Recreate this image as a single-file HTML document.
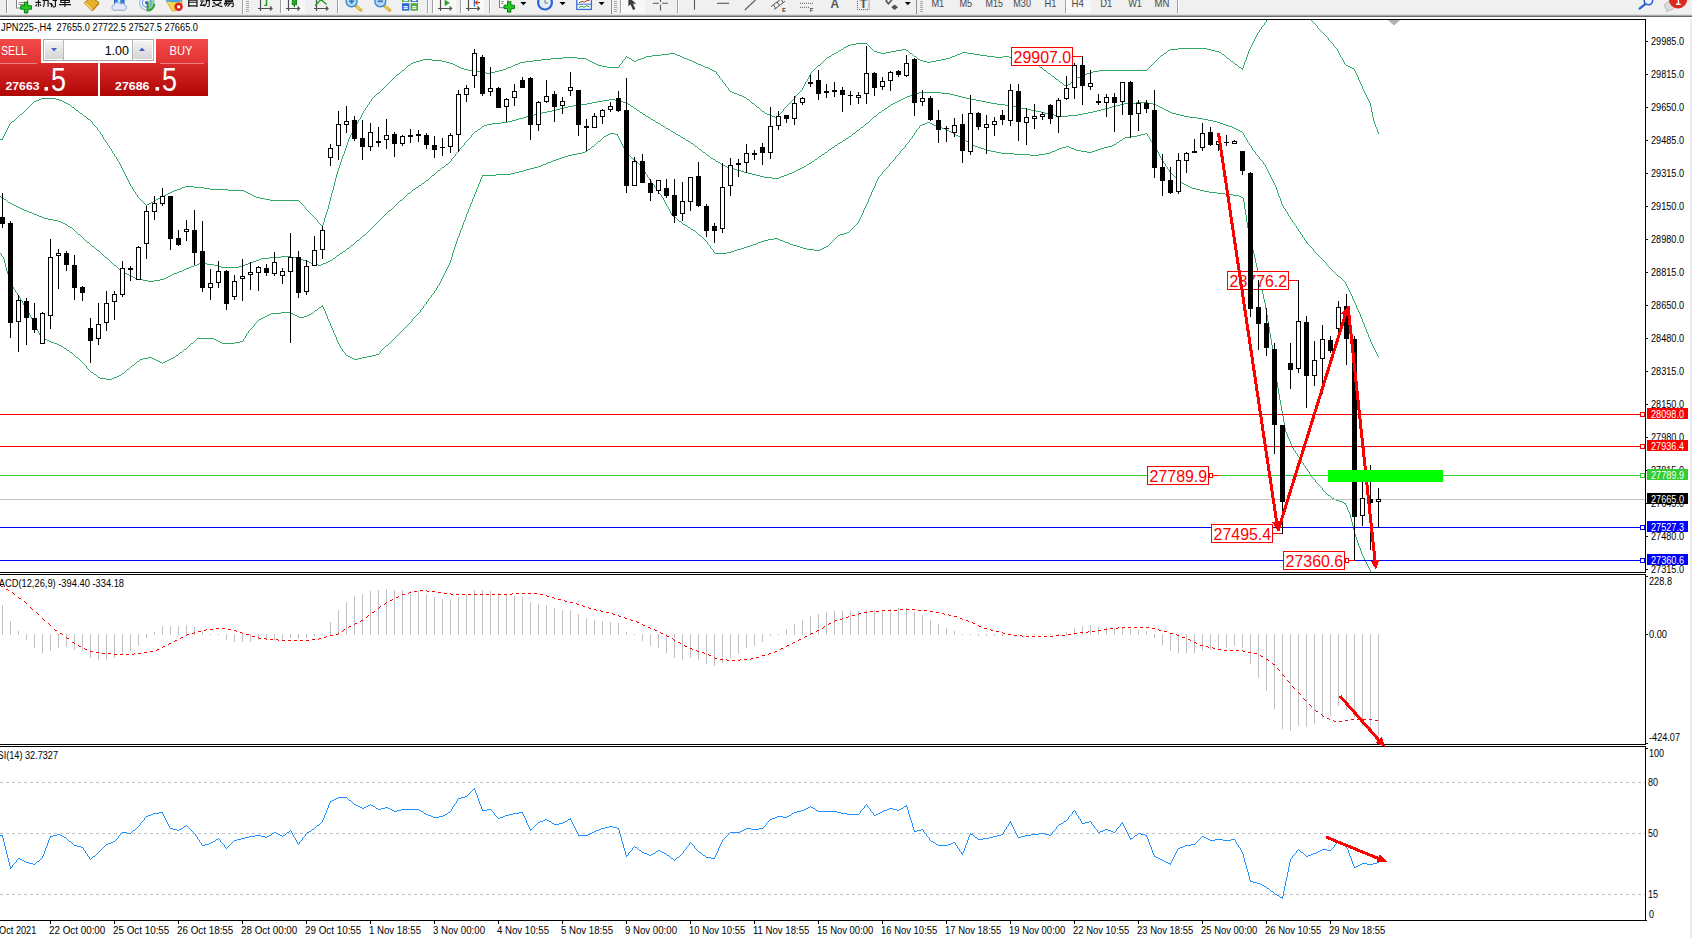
<!DOCTYPE html><html><head><meta charset="utf-8"><title>JPN225 H4</title>
<style>html,body{margin:0;padding:0;background:#fff;overflow:hidden}body{width:1692px;height:938px;position:relative;font-family:"Liberation Sans",sans-serif}svg{position:absolute;left:0;top:0;display:block}text{font-family:"Liberation Sans",sans-serif}</style></head><body>
<svg width="1692" height="938" viewBox="0 0 1692 938">
<defs>
<linearGradient id="gTop" x1="0" y1="0" x2="0" y2="1"><stop offset="0" stop-color="#f24a4a"/><stop offset="1" stop-color="#e03232"/></linearGradient>
<linearGradient id="gBot" x1="0" y1="0" x2="0" y2="1"><stop offset="0" stop-color="#d82a2a"/><stop offset="1" stop-color="#b00606"/></linearGradient>
<linearGradient id="gBtn" x1="0" y1="0" x2="0" y2="1"><stop offset="0" stop-color="#f4f4f4"/><stop offset="1" stop-color="#d4d4d4"/></linearGradient>
<clipPath id="cMain"><rect x="0" y="20" width="1645" height="552"/></clipPath>
<clipPath id="cMacd"><rect x="0" y="575" width="1645" height="169"/></clipPath>
<clipPath id="cTb"><rect x="0" y="0" width="1692" height="14"/></clipPath>
</defs>
<rect x="0" y="0" width="1692" height="938" fill="#fff"/>
<g clip-path="url(#cMain)">
<path d="M1280 5h19v1h-19zM1279 6h1v1h-1zM1299 6h1v1h-1zM1278 7h1v1h-1zM1300 7h1v1h-1zM1277 8h1v1h-1zM1301 8h1v2h-1zM1276 9h1v1h-1zM1275 10h1v1h-1zM1302 10h1v1h-1zM1274 11h1v1h-1zM1303 11h1v1h-1zM1273 12h1v2h-1zM1304 12h1v1h-1zM1305 13h1v1h-1zM1272 14h1v1h-1zM1306 14h1v1h-1zM1271 15h1v1h-1zM1307 15h1v2h-1zM1270 16h1v1h-1zM1269 17h1v1h-1zM1308 17h1v1h-1zM1268 18h1v1h-1zM1309 18h1v1h-1zM1267 19h1v1h-1zM1310 19h1v1h-1zM1266 20h1v2h-1zM1311 20h1v1h-1zM1312 21h1v1h-1zM1265 22h1v1h-1zM1313 22h1v1h-1zM1264 23h1v2h-1zM1314 23h1v1h-1zM1315 24h1v1h-1zM1263 25h1v1h-1zM1316 25h1v1h-1zM1262 26h1v1h-1zM1317 26h1v2h-1zM1261 27h1v2h-1zM1318 28h1v1h-1zM1260 29h1v1h-1zM1319 29h1v1h-1zM1259 30h1v2h-1zM1320 30h1v1h-1zM1321 31h1v1h-1zM1258 32h1v1h-1zM1322 32h1v1h-1zM1257 33h1v2h-1zM1323 33h1v1h-1zM1324 34h1v1h-1zM1256 35h1v2h-1zM1325 35h1v1h-1zM1326 36h1v1h-1zM1255 37h1v2h-1zM1327 37h1v1h-1zM1328 38h1v2h-1zM1254 39h1v2h-1zM1329 40h1v1h-1zM1253 41h1v2h-1zM1330 41h1v1h-1zM1331 42h1v1h-1zM856 43h11v1h-11zM1252 43h1v2h-1zM1332 43h1v1h-1zM851 44h5v1h-5zM867 44h1v1h-1zM1333 44h1v2h-1zM848 45h3v1h-3zM868 45h1v1h-1zM1251 45h1v2h-1zM846 46h2v1h-2zM869 46h1v1h-1zM1334 46h1v1h-1zM844 47h2v1h-2zM870 47h1v1h-1zM1250 47h1v2h-1zM1335 47h1v1h-1zM843 48h1v1h-1zM871 48h1v1h-1zM1178 48h29v1h-29zM1336 48h1v1h-1zM841 49h2v1h-2zM872 49h1v1h-1zM902 49h4v1h-4zM1170 49h8v1h-8zM1207 49h4v1h-4zM1249 49h1v2h-1zM1337 49h1v2h-1zM839 50h2v1h-2zM873 50h1v1h-1zM896 50h6v1h-6zM906 50h2v1h-2zM1168 50h2v1h-2zM1211 50h4v1h-4zM838 51h1v1h-1zM874 51h3v1h-3zM891 51h5v1h-5zM908 51h1v1h-1zM1167 51h1v1h-1zM1215 51h4v1h-4zM1248 51h1v3h-1zM1338 51h1v2h-1zM836 52h2v1h-2zM877 52h4v1h-4zM886 52h5v1h-5zM909 52h1v1h-1zM962 52h5v1h-5zM1166 52h1v1h-1zM1219 52h2v1h-2zM669 53h6v1h-6zM834 53h2v1h-2zM881 53h5v1h-5zM910 53h2v1h-2zM960 53h2v1h-2zM967 53h7v1h-7zM1164 53h2v1h-2zM1221 53h1v1h-1zM1339 53h1v2h-1zM661 54h8v1h-8zM675 54h2v1h-2zM832 54h2v1h-2zM912 54h1v1h-1zM957 54h3v1h-3zM974 54h6v1h-6zM1163 54h1v1h-1zM1222 54h2v1h-2zM1247 54h1v3h-1zM652 55h9v1h-9zM677 55h3v1h-3zM831 55h1v1h-1zM913 55h1v1h-1zM955 55h2v1h-2zM980 55h7v1h-7zM1161 55h2v1h-2zM1224 55h1v1h-1zM1340 55h1v2h-1zM626 56h1v1h-1zM646 56h6v1h-6zM680 56h2v1h-2zM829 56h2v1h-2zM914 56h2v1h-2zM952 56h3v1h-3zM987 56h8v1h-8zM1003 56h6v1h-6zM1160 56h1v1h-1zM1225 56h1v1h-1zM563 57h14v1h-14zM625 57h1v2h-1zM627 57h2v1h-2zM644 57h2v1h-2zM682 57h2v1h-2zM827 57h2v1h-2zM916 57h1v1h-1zM950 57h2v1h-2zM995 57h8v1h-8zM1009 57h3v1h-3zM1159 57h1v1h-1zM1226 57h1v1h-1zM1246 57h1v3h-1zM1341 57h1v1h-1zM551 58h12v1h-12zM577 58h9v1h-9zM629 58h2v1h-2zM641 58h3v1h-3zM684 58h3v1h-3zM826 58h1v1h-1zM917 58h1v1h-1zM946 58h4v1h-4zM1012 58h4v1h-4zM1158 58h1v1h-1zM1227 58h2v1h-2zM1342 58h1v2h-1zM423 59h9v1h-9zM541 59h10v1h-10zM586 59h2v1h-2zM624 59h1v1h-1zM631 59h1v1h-1zM638 59h3v1h-3zM687 59h2v1h-2zM825 59h1v1h-1zM918 59h2v1h-2zM941 59h5v1h-5zM1016 59h3v1h-3zM1157 59h1v1h-1zM1229 59h1v1h-1zM420 60h3v1h-3zM432 60h10v1h-10zM533 60h8v1h-8zM588 60h2v1h-2zM623 60h1v1h-1zM632 60h2v1h-2zM636 60h2v1h-2zM689 60h3v1h-3zM824 60h1v1h-1zM920 60h3v1h-3zM936 60h5v1h-5zM1019 60h4v1h-4zM1156 60h1v1h-1zM1230 60h1v1h-1zM1245 60h1v2h-1zM1343 60h1v2h-1zM416 61h4v1h-4zM442 61h4v1h-4zM525 61h8v1h-8zM590 61h2v1h-2zM622 61h1v2h-1zM634 61h2v1h-2zM692 61h2v1h-2zM823 61h1v1h-1zM923 61h4v1h-4zM931 61h5v1h-5zM1023 61h3v1h-3zM1155 61h1v1h-1zM1231 61h2v1h-2zM413 62h3v1h-3zM446 62h4v1h-4zM520 62h5v1h-5zM592 62h2v1h-2zM694 62h2v1h-2zM822 62h1v1h-1zM927 62h4v1h-4zM1026 62h4v1h-4zM1154 62h1v1h-1zM1233 62h1v1h-1zM1244 62h1v3h-1zM1344 62h1v2h-1zM411 63h2v1h-2zM450 63h3v1h-3zM518 63h2v1h-2zM594 63h2v1h-2zM621 63h1v1h-1zM696 63h2v1h-2zM821 63h1v1h-1zM1030 63h3v1h-3zM1153 63h1v1h-1zM1234 63h1v1h-1zM410 64h1v1h-1zM453 64h2v1h-2zM515 64h3v1h-3zM596 64h2v1h-2zM620 64h1v1h-1zM698 64h3v1h-3zM820 64h1v1h-1zM1033 64h4v1h-4zM1152 64h1v1h-1zM1235 64h2v1h-2zM1345 64h1v1h-1zM408 65h2v1h-2zM455 65h2v1h-2zM513 65h2v1h-2zM598 65h4v1h-4zM619 65h1v2h-1zM701 65h2v1h-2zM818 65h2v1h-2zM1037 65h2v1h-2zM1151 65h1v1h-1zM1237 65h1v1h-1zM1243 65h1v3h-1zM1346 65h2v1h-2zM407 66h1v1h-1zM457 66h2v1h-2zM511 66h2v1h-2zM602 66h5v1h-5zM703 66h2v1h-2zM817 66h1v1h-1zM1039 66h1v1h-1zM1150 66h1v1h-1zM1238 66h1v1h-1zM1348 66h2v1h-2zM406 67h1v1h-1zM459 67h2v1h-2zM508 67h3v1h-3zM607 67h12v1h-12zM705 67h3v1h-3zM816 67h1v1h-1zM1040 67h2v1h-2zM1149 67h1v1h-1zM1239 67h2v1h-2zM1350 67h2v1h-2zM405 68h1v1h-1zM461 68h3v1h-3zM506 68h2v1h-2zM708 68h2v1h-2zM815 68h1v1h-1zM1042 68h1v1h-1zM1148 68h1v1h-1zM1241 68h2v1h-2zM1352 68h2v1h-2zM404 69h1v1h-1zM464 69h4v1h-4zM503 69h3v1h-3zM710 69h2v1h-2zM814 69h1v1h-1zM1043 69h1v1h-1zM1147 69h1v1h-1zM1242 69h1v1h-1zM1354 69h1v2h-1zM402 70h2v1h-2zM468 70h5v1h-5zM499 70h4v1h-4zM712 70h2v1h-2zM813 70h1v1h-1zM1044 70h2v1h-2zM1099 70h48v1h-48zM401 71h1v1h-1zM473 71h7v1h-7zM495 71h4v1h-4zM714 71h2v1h-2zM812 71h1v1h-1zM1046 71h1v1h-1zM1093 71h6v1h-6zM1355 71h1v2h-1zM400 72h1v1h-1zM480 72h6v1h-6zM491 72h4v1h-4zM716 72h1v2h-1zM811 72h1v1h-1zM1047 72h1v1h-1zM1090 72h3v1h-3zM399 73h1v1h-1zM486 73h5v1h-5zM810 73h1v2h-1zM1048 73h2v1h-2zM1087 73h3v1h-3zM1356 73h1v2h-1zM397 74h2v1h-2zM717 74h1v1h-1zM1050 74h1v1h-1zM1085 74h2v1h-2zM396 75h1v1h-1zM718 75h1v1h-1zM809 75h1v2h-1zM1051 75h1v1h-1zM1083 75h2v1h-2zM1357 75h1v2h-1zM395 76h1v1h-1zM719 76h1v2h-1zM1052 76h2v1h-2zM1081 76h2v1h-2zM394 77h1v1h-1zM808 77h1v2h-1zM1054 77h1v1h-1zM1077 77h4v1h-4zM1358 77h1v3h-1zM393 78h1v1h-1zM720 78h1v1h-1zM1055 78h1v1h-1zM1076 78h1v1h-1zM392 79h1v1h-1zM721 79h1v1h-1zM807 79h1v2h-1zM1056 79h2v1h-2zM1074 79h2v1h-2zM391 80h1v1h-1zM722 80h1v2h-1zM1058 80h1v1h-1zM1073 80h1v1h-1zM1359 80h1v2h-1zM390 81h1v1h-1zM806 81h1v1h-1zM1059 81h1v1h-1zM1072 81h1v1h-1zM389 82h1v1h-1zM723 82h1v1h-1zM805 82h1v2h-1zM1060 82h2v1h-2zM1071 82h1v1h-1zM1360 82h1v2h-1zM388 83h1v1h-1zM724 83h1v1h-1zM1062 83h1v1h-1zM1070 83h1v1h-1zM387 84h1v1h-1zM725 84h1v2h-1zM804 84h1v2h-1zM1063 84h1v1h-1zM1068 84h2v1h-2zM1361 84h1v2h-1zM386 85h1v1h-1zM1064 85h2v1h-2zM1067 85h1v1h-1zM385 86h1v1h-1zM726 86h1v1h-1zM803 86h1v2h-1zM1066 86h1v1h-1zM1362 86h1v3h-1zM384 87h1v1h-1zM727 87h1v1h-1zM383 88h1v1h-1zM728 88h1v2h-1zM802 88h1v2h-1zM382 89h1v1h-1zM1363 89h1v2h-1zM381 90h1v1h-1zM729 90h1v1h-1zM801 90h1v1h-1zM380 91h1v1h-1zM730 91h2v1h-2zM800 91h1v1h-1zM1364 91h1v2h-1zM379 92h1v1h-1zM732 92h2v1h-2zM799 92h1v1h-1zM377 93h2v1h-2zM734 93h3v1h-3zM798 93h1v1h-1zM1365 93h1v2h-1zM376 94h1v1h-1zM737 94h2v1h-2zM797 94h1v1h-1zM375 95h1v1h-1zM739 95h3v1h-3zM796 95h1v1h-1zM1366 95h1v2h-1zM374 96h1v1h-1zM742 96h2v1h-2zM795 96h1v2h-1zM373 97h1v1h-1zM744 97h2v1h-2zM1367 97h1v2h-1zM41 98h15v1h-15zM372 98h1v1h-1zM746 98h1v1h-1zM794 98h1v1h-1zM39 99h2v1h-2zM56 99h3v1h-3zM371 99h1v2h-1zM747 99h2v1h-2zM793 99h1v1h-1zM1368 99h1v2h-1zM36 100h3v1h-3zM59 100h3v1h-3zM749 100h1v1h-1zM792 100h1v1h-1zM34 101h2v1h-2zM62 101h2v1h-2zM370 101h1v1h-1zM750 101h1v1h-1zM791 101h1v1h-1zM1369 101h1v2h-1zM33 102h1v1h-1zM64 102h2v1h-2zM369 102h1v2h-1zM751 102h1v1h-1zM790 102h1v1h-1zM32 103h1v1h-1zM66 103h2v1h-2zM752 103h2v1h-2zM789 103h1v1h-1zM1370 103h1v4h-1zM31 104h1v1h-1zM68 104h2v1h-2zM368 104h1v1h-1zM754 104h1v1h-1zM788 104h1v1h-1zM30 105h1v1h-1zM70 105h1v1h-1zM367 105h1v2h-1zM755 105h1v1h-1zM787 105h1v1h-1zM29 106h1v1h-1zM71 106h1v1h-1zM756 106h1v1h-1zM786 106h1v1h-1zM28 107h1v1h-1zM72 107h2v1h-2zM366 107h1v1h-1zM757 107h2v1h-2zM785 107h1v1h-1zM1371 107h1v5h-1zM27 108h1v1h-1zM74 108h1v1h-1zM365 108h1v2h-1zM759 108h1v1h-1zM784 108h1v1h-1zM26 109h1v1h-1zM75 109h1v1h-1zM760 109h1v1h-1zM783 109h1v2h-1zM25 110h1v1h-1zM76 110h2v1h-2zM364 110h1v1h-1zM761 110h1v1h-1zM24 111h1v1h-1zM78 111h1v1h-1zM363 111h1v2h-1zM762 111h2v1h-2zM782 111h1v1h-1zM23 112h1v1h-1zM79 112h1v1h-1zM764 112h1v1h-1zM781 112h1v1h-1zM1372 112h1v5h-1zM22 113h1v1h-1zM80 113h2v1h-2zM362 113h1v2h-1zM765 113h2v1h-2zM780 113h1v1h-1zM20 114h2v1h-2zM82 114h1v1h-1zM767 114h3v1h-3zM779 114h1v1h-1zM19 115h1v1h-1zM83 115h1v1h-1zM361 115h1v2h-1zM770 115h2v1h-2zM778 115h1v1h-1zM18 116h1v1h-1zM84 116h2v1h-2zM772 116h3v1h-3zM777 116h1v1h-1zM17 117h1v1h-1zM86 117h1v1h-1zM360 117h1v2h-1zM775 117h2v1h-2zM1373 117h1v4h-1zM16 118h1v1h-1zM87 118h1v1h-1zM15 119h1v1h-1zM88 119h2v1h-2zM359 119h1v1h-1zM14 120h1v1h-1zM90 120h1v1h-1zM358 120h1v2h-1zM12 121h2v1h-2zM91 121h1v1h-1zM1374 121h1v3h-1zM11 122h1v1h-1zM92 122h1v2h-1zM357 122h1v2h-1zM10 123h1v1h-1zM9 124h1v2h-1zM93 124h1v1h-1zM356 124h1v2h-1zM1375 124h1v3h-1zM94 125h1v1h-1zM8 126h1v2h-1zM95 126h1v1h-1zM355 126h1v2h-1zM96 127h1v1h-1zM1376 127h1v2h-1zM7 128h1v2h-1zM97 128h1v2h-1zM354 128h1v1h-1zM353 129h1v2h-1zM1377 129h1v3h-1zM6 130h1v2h-1zM98 130h1v1h-1zM99 131h1v1h-1zM352 131h1v2h-1zM5 132h1v2h-1zM100 132h1v2h-1zM1378 132h1v2h-1zM351 133h1v2h-1zM4 134h1v2h-1zM101 134h1v1h-1zM102 135h1v2h-1zM350 135h1v2h-1zM3 136h1v2h-1zM103 137h1v2h-1zM349 137h1v2h-1zM2 138h1v2h-1zM0 139h2v1h-2zM104 139h1v1h-1zM348 139h1v3h-1zM105 140h1v2h-1zM106 142h1v1h-1zM347 142h1v3h-1zM107 143h1v2h-1zM108 145h1v1h-1zM346 145h1v3h-1zM109 146h1v2h-1zM110 148h1v1h-1zM345 148h1v3h-1zM111 149h1v2h-1zM112 151h1v2h-1zM344 151h1v3h-1zM113 153h1v1h-1zM114 154h1v2h-1zM343 154h1v2h-1zM115 156h1v1h-1zM342 156h1v3h-1zM116 157h1v2h-1zM117 159h1v2h-1zM341 159h1v3h-1zM118 161h1v1h-1zM119 162h1v2h-1zM340 162h1v3h-1zM120 164h1v2h-1zM339 165h1v3h-1zM121 166h1v2h-1zM122 168h1v2h-1zM338 168h1v3h-1zM123 170h1v2h-1zM337 171h1v3h-1zM124 172h1v2h-1zM125 174h1v2h-1zM336 174h1v4h-1zM126 176h1v2h-1zM127 178h1v2h-1zM335 178h1v4h-1zM128 180h1v2h-1zM129 182h1v2h-1zM334 182h1v4h-1zM130 184h1v2h-1zM131 186h1v1h-1zM185 186h9v1h-9zM333 186h1v4h-1zM132 187h1v2h-1zM182 187h3v1h-3zM194 187h10v1h-10zM180 188h2v1h-2zM204 188h6v1h-6zM133 189h1v2h-1zM177 189h3v1h-3zM210 189h18v1h-18zM174 190h3v1h-3zM228 190h16v1h-16zM332 190h1v3h-1zM134 191h1v1h-1zM172 191h2v1h-2zM244 191h2v1h-2zM135 192h1v2h-1zM170 192h2v1h-2zM246 192h2v1h-2zM168 193h2v1h-2zM248 193h2v1h-2zM331 193h1v4h-1zM136 194h1v1h-1zM166 194h2v1h-2zM250 194h2v1h-2zM137 195h1v2h-1zM164 195h2v1h-2zM252 195h2v1h-2zM162 196h2v1h-2zM254 196h2v1h-2zM138 197h1v1h-1zM160 197h2v1h-2zM256 197h4v1h-4zM330 197h1v4h-1zM139 198h1v1h-1zM158 198h2v1h-2zM260 198h5v1h-5zM140 199h1v1h-1zM156 199h2v1h-2zM265 199h5v1h-5zM141 200h1v1h-1zM155 200h1v1h-1zM270 200h29v1h-29zM142 201h1v1h-1zM153 201h2v1h-2zM299 201h1v1h-1zM329 201h1v4h-1zM143 202h1v1h-1zM151 202h2v1h-2zM300 202h1v1h-1zM144 203h1v1h-1zM149 203h2v1h-2zM301 203h1v1h-1zM145 204h1v1h-1zM147 204h2v1h-2zM302 204h1v1h-1zM146 205h1v1h-1zM303 205h1v1h-1zM328 205h1v4h-1zM304 206h1v1h-1zM305 207h1v2h-1zM306 209h1v1h-1zM327 209h1v3h-1zM307 210h1v1h-1zM308 211h1v1h-1zM309 212h1v1h-1zM326 212h1v3h-1zM310 213h1v1h-1zM311 214h1v1h-1zM312 215h1v1h-1zM325 215h1v3h-1zM313 216h1v1h-1zM314 217h1v1h-1zM315 218h1v1h-1zM324 218h1v4h-1zM316 219h1v1h-1zM317 220h1v2h-1zM318 222h1v1h-1zM323 222h1v3h-1zM319 223h1v1h-1zM320 224h1v1h-1zM321 225h2v1h-2zM322 226h1v1h-1z" fill="#30aa66" shape-rendering="crispEdges"/>
<path d="M919 92h22v1h-22zM916 93h3v1h-3zM941 93h9v1h-9zM913 94h3v1h-3zM950 94h4v1h-4zM910 95h3v1h-3zM954 95h4v1h-4zM907 96h3v1h-3zM958 96h4v1h-4zM905 97h2v1h-2zM962 97h4v1h-4zM903 98h2v1h-2zM966 98h5v1h-5zM609 99h6v1h-6zM901 99h2v1h-2zM971 99h5v1h-5zM603 100h6v1h-6zM615 100h4v1h-4zM899 100h2v1h-2zM976 100h5v1h-5zM597 101h6v1h-6zM619 101h4v1h-4zM897 101h2v1h-2zM981 101h5v1h-5zM592 102h5v1h-5zM623 102h3v1h-3zM895 102h2v1h-2zM986 102h5v1h-5zM1136 102h12v1h-12zM587 103h5v1h-5zM626 103h2v1h-2zM893 103h2v1h-2zM991 103h6v1h-6zM1124 103h12v1h-12zM1148 103h5v1h-5zM581 104h6v1h-6zM628 104h2v1h-2zM891 104h2v1h-2zM997 104h8v1h-8zM1120 104h4v1h-4zM1153 104h3v1h-3zM573 105h8v1h-8zM630 105h1v1h-1zM890 105h1v1h-1zM1005 105h6v1h-6zM1116 105h4v1h-4zM1156 105h2v1h-2zM568 106h5v1h-5zM631 106h2v1h-2zM888 106h2v1h-2zM1011 106h5v1h-5zM1112 106h4v1h-4zM1158 106h2v1h-2zM564 107h4v1h-4zM633 107h1v1h-1zM887 107h1v1h-1zM1016 107h5v1h-5zM1109 107h3v1h-3zM1160 107h2v1h-2zM560 108h4v1h-4zM634 108h2v1h-2zM885 108h2v1h-2zM1021 108h5v1h-5zM1105 108h4v1h-4zM1162 108h2v1h-2zM556 109h4v1h-4zM636 109h1v1h-1zM884 109h1v1h-1zM1026 109h5v1h-5zM1101 109h4v1h-4zM1164 109h2v1h-2zM552 110h4v1h-4zM637 110h2v1h-2zM882 110h2v1h-2zM1031 110h5v1h-5zM1097 110h4v1h-4zM1166 110h2v1h-2zM547 111h5v1h-5zM639 111h1v1h-1zM881 111h1v1h-1zM1036 111h5v1h-5zM1093 111h4v1h-4zM1168 111h2v1h-2zM542 112h5v1h-5zM640 112h2v1h-2zM879 112h2v1h-2zM1041 112h4v1h-4zM1088 112h5v1h-5zM1170 112h2v1h-2zM538 113h4v1h-4zM642 113h1v1h-1zM878 113h1v1h-1zM1045 113h5v1h-5zM1083 113h5v1h-5zM1172 113h4v1h-4zM534 114h4v1h-4zM643 114h2v1h-2zM877 114h1v1h-1zM1050 114h4v1h-4zM1078 114h5v1h-5zM1176 114h4v1h-4zM530 115h4v1h-4zM645 115h1v1h-1zM876 115h1v1h-1zM1054 115h4v1h-4zM1068 115h10v1h-10zM1180 115h4v1h-4zM526 116h4v1h-4zM646 116h2v1h-2zM874 116h2v1h-2zM1058 116h10v1h-10zM1184 116h5v1h-5zM523 117h3v1h-3zM648 117h2v1h-2zM873 117h1v1h-1zM1189 117h8v1h-8zM519 118h4v1h-4zM650 118h1v1h-1zM872 118h1v1h-1zM1197 118h6v1h-6zM516 119h3v1h-3zM651 119h2v1h-2zM871 119h1v1h-1zM1203 119h5v1h-5zM512 120h4v1h-4zM653 120h2v1h-2zM870 120h1v1h-1zM1208 120h5v1h-5zM508 121h4v1h-4zM655 121h1v1h-1zM869 121h1v1h-1zM1213 121h4v1h-4zM501 122h7v1h-7zM656 122h2v1h-2zM868 122h1v1h-1zM1217 122h3v1h-3zM492 123h9v1h-9zM658 123h2v1h-2zM866 123h2v1h-2zM1220 123h3v1h-3zM487 124h5v1h-5zM660 124h1v1h-1zM865 124h1v1h-1zM1223 124h3v1h-3zM484 125h3v1h-3zM661 125h2v1h-2zM864 125h1v1h-1zM1226 125h3v1h-3zM482 126h2v1h-2zM663 126h2v1h-2zM863 126h1v1h-1zM1229 126h3v1h-3zM481 127h1v1h-1zM665 127h1v1h-1zM861 127h2v1h-2zM1232 127h2v1h-2zM480 128h1v1h-1zM666 128h2v1h-2zM860 128h1v1h-1zM1234 128h2v1h-2zM478 129h2v1h-2zM668 129h2v1h-2zM859 129h1v1h-1zM1236 129h2v1h-2zM477 130h1v1h-1zM670 130h1v1h-1zM857 130h2v1h-2zM1238 130h2v1h-2zM475 131h2v1h-2zM671 131h2v1h-2zM856 131h1v1h-1zM1240 131h2v1h-2zM474 132h1v1h-1zM673 132h2v1h-2zM855 132h1v1h-1zM1242 132h1v1h-1zM473 133h1v1h-1zM675 133h1v1h-1zM853 133h2v1h-2zM1243 133h1v2h-1zM472 134h1v1h-1zM676 134h2v1h-2zM852 134h1v1h-1zM471 135h1v2h-1zM678 135h2v1h-2zM851 135h1v1h-1zM1244 135h1v2h-1zM680 136h1v1h-1zM849 136h2v1h-2zM470 137h1v1h-1zM681 137h2v1h-2zM848 137h1v1h-1zM1245 137h1v1h-1zM469 138h1v1h-1zM683 138h2v1h-2zM846 138h2v1h-2zM1246 138h1v2h-1zM468 139h1v1h-1zM685 139h1v1h-1zM845 139h1v1h-1zM467 140h1v1h-1zM686 140h2v1h-2zM843 140h2v1h-2zM1247 140h1v2h-1zM466 141h1v1h-1zM688 141h2v1h-2zM842 141h1v1h-1zM465 142h1v1h-1zM690 142h1v1h-1zM840 142h2v1h-2zM1248 142h1v1h-1zM464 143h1v2h-1zM691 143h2v1h-2zM838 143h2v1h-2zM1249 143h1v2h-1zM693 144h1v1h-1zM837 144h1v1h-1zM463 145h1v1h-1zM694 145h1v1h-1zM835 145h2v1h-2zM1250 145h1v1h-1zM462 146h1v1h-1zM695 146h2v1h-2zM834 146h1v1h-1zM1251 146h1v2h-1zM461 147h1v1h-1zM697 147h1v1h-1zM832 147h2v1h-2zM460 148h1v1h-1zM698 148h1v1h-1zM831 148h1v1h-1zM1252 148h1v2h-1zM459 149h1v2h-1zM699 149h2v1h-2zM829 149h2v1h-2zM701 150h1v1h-1zM828 150h1v1h-1zM1253 150h1v1h-1zM458 151h1v1h-1zM702 151h1v1h-1zM827 151h1v1h-1zM1254 151h1v1h-1zM457 152h1v1h-1zM703 152h2v1h-2zM825 152h2v1h-2zM1255 152h1v2h-1zM456 153h1v1h-1zM705 153h1v1h-1zM824 153h1v1h-1zM455 154h1v2h-1zM706 154h1v1h-1zM822 154h2v1h-2zM1256 154h1v1h-1zM707 155h2v1h-2zM821 155h1v1h-1zM1257 155h1v1h-1zM454 156h1v1h-1zM709 156h1v1h-1zM819 156h2v1h-2zM1258 156h1v1h-1zM453 157h1v1h-1zM710 157h1v1h-1zM818 157h1v1h-1zM1259 157h1v2h-1zM452 158h1v1h-1zM711 158h2v1h-2zM817 158h1v1h-1zM451 159h1v2h-1zM713 159h2v1h-2zM815 159h2v1h-2zM1260 159h1v1h-1zM715 160h1v1h-1zM814 160h1v1h-1zM1261 160h1v1h-1zM450 161h1v1h-1zM716 161h2v1h-2zM812 161h2v1h-2zM1262 161h1v1h-1zM449 162h1v1h-1zM718 162h2v1h-2zM811 162h1v1h-1zM1263 162h1v2h-1zM448 163h1v1h-1zM720 163h1v1h-1zM809 163h2v1h-2zM446 164h2v1h-2zM721 164h2v1h-2zM807 164h2v1h-2zM1264 164h1v1h-1zM445 165h1v1h-1zM723 165h2v1h-2zM806 165h1v1h-1zM1265 165h1v2h-1zM444 166h1v1h-1zM725 166h2v1h-2zM804 166h2v1h-2zM442 167h2v1h-2zM727 167h4v1h-4zM802 167h2v1h-2zM1266 167h1v2h-1zM441 168h1v1h-1zM731 168h3v1h-3zM800 168h2v1h-2zM440 169h1v1h-1zM734 169h3v1h-3zM798 169h2v1h-2zM1267 169h1v2h-1zM438 170h2v1h-2zM737 170h4v1h-4zM796 170h2v1h-2zM437 171h1v1h-1zM741 171h3v1h-3zM794 171h2v1h-2zM1268 171h1v2h-1zM436 172h1v1h-1zM744 172h4v1h-4zM792 172h2v1h-2zM435 173h1v1h-1zM748 173h4v1h-4zM789 173h3v1h-3zM1269 173h1v2h-1zM434 174h1v1h-1zM752 174h4v1h-4zM787 174h2v1h-2zM432 175h2v1h-2zM756 175h4v1h-4zM784 175h3v1h-3zM1270 175h1v2h-1zM431 176h1v1h-1zM760 176h4v1h-4zM781 176h3v1h-3zM430 177h1v1h-1zM764 177h8v1h-8zM779 177h2v1h-2zM1271 177h1v2h-1zM429 178h1v1h-1zM772 178h7v1h-7zM428 179h1v1h-1zM1272 179h1v2h-1zM426 180h2v1h-2zM425 181h1v1h-1zM1273 181h1v2h-1zM424 182h1v1h-1zM422 183h2v1h-2zM1274 183h1v2h-1zM421 184h1v1h-1zM419 185h2v1h-2zM1275 185h1v2h-1zM418 186h1v1h-1zM416 187h2v1h-2zM1276 187h1v3h-1zM415 188h1v1h-1zM413 189h2v1h-2zM412 190h1v1h-1zM1277 190h1v3h-1zM411 191h1v1h-1zM410 192h1v1h-1zM408 193h2v1h-2zM1278 193h1v3h-1zM407 194h1v1h-1zM406 195h1v1h-1zM0 196h1v1h-1zM405 196h1v1h-1zM1279 196h1v2h-1zM1 197h2v1h-2zM404 197h1v1h-1zM3 198h1v1h-1zM403 198h1v1h-1zM1280 198h1v3h-1zM4 199h2v1h-2zM402 199h1v1h-1zM6 200h1v1h-1zM400 200h2v1h-2zM7 201h1v1h-1zM399 201h1v1h-1zM1281 201h1v3h-1zM8 202h2v1h-2zM398 202h1v1h-1zM10 203h2v1h-2zM397 203h1v1h-1zM12 204h2v1h-2zM396 204h1v1h-1zM1282 204h1v2h-1zM14 205h2v1h-2zM395 205h1v1h-1zM16 206h2v1h-2zM394 206h1v1h-1zM1283 206h1v2h-1zM18 207h2v1h-2zM393 207h1v1h-1zM20 208h2v1h-2zM392 208h1v1h-1zM1284 208h1v1h-1zM22 209h2v1h-2zM391 209h1v1h-1zM1285 209h1v2h-1zM24 210h3v1h-3zM389 210h2v1h-2zM27 211h2v1h-2zM388 211h1v1h-1zM1286 211h1v1h-1zM29 212h3v1h-3zM387 212h1v1h-1zM1287 212h1v2h-1zM32 213h2v1h-2zM386 213h1v1h-1zM34 214h3v1h-3zM385 214h1v1h-1zM1288 214h1v2h-1zM37 215h2v1h-2zM384 215h1v1h-1zM39 216h3v1h-3zM383 216h1v1h-1zM1289 216h1v1h-1zM42 217h2v1h-2zM382 217h1v1h-1zM1290 217h1v2h-1zM44 218h4v1h-4zM381 218h1v1h-1zM48 219h5v1h-5zM380 219h1v1h-1zM1291 219h1v1h-1zM53 220h5v1h-5zM379 220h1v1h-1zM1292 220h1v2h-1zM58 221h3v1h-3zM378 221h1v1h-1zM61 222h2v1h-2zM377 222h1v1h-1zM1293 222h1v1h-1zM63 223h2v1h-2zM376 223h1v1h-1zM1294 223h1v2h-1zM65 224h2v1h-2zM375 224h1v1h-1zM67 225h1v1h-1zM374 225h1v1h-1zM1295 225h1v1h-1zM68 226h2v1h-2zM373 226h1v1h-1zM1296 226h1v2h-1zM70 227h2v1h-2zM372 227h1v1h-1zM72 228h1v1h-1zM371 228h1v1h-1zM1297 228h1v1h-1zM73 229h1v1h-1zM370 229h1v1h-1zM1298 229h1v2h-1zM74 230h1v1h-1zM369 230h1v1h-1zM75 231h1v1h-1zM368 231h1v1h-1zM1299 231h1v1h-1zM76 232h1v1h-1zM367 232h1v1h-1zM1300 232h1v2h-1zM77 233h1v1h-1zM366 233h1v1h-1zM78 234h2v1h-2zM365 234h1v1h-1zM1301 234h1v1h-1zM80 235h1v1h-1zM363 235h2v1h-2zM1302 235h1v2h-1zM81 236h1v1h-1zM362 236h1v1h-1zM82 237h1v1h-1zM361 237h1v1h-1zM1303 237h1v1h-1zM83 238h1v1h-1zM360 238h1v1h-1zM1304 238h1v2h-1zM84 239h1v1h-1zM359 239h1v1h-1zM85 240h1v1h-1zM357 240h2v1h-2zM1305 240h1v1h-1zM86 241h1v1h-1zM356 241h1v1h-1zM1306 241h1v2h-1zM87 242h2v1h-2zM355 242h1v1h-1zM89 243h1v1h-1zM354 243h1v1h-1zM1307 243h1v1h-1zM90 244h1v1h-1zM353 244h1v1h-1zM1308 244h1v1h-1zM91 245h1v1h-1zM351 245h2v1h-2zM1309 245h1v1h-1zM92 246h2v1h-2zM350 246h1v1h-1zM1310 246h1v1h-1zM94 247h1v1h-1zM349 247h1v1h-1zM1311 247h1v1h-1zM95 248h1v1h-1zM347 248h2v1h-2zM1312 248h1v1h-1zM96 249h1v1h-1zM346 249h1v1h-1zM1313 249h1v2h-1zM97 250h2v1h-2zM345 250h1v1h-1zM99 251h1v1h-1zM343 251h2v1h-2zM1314 251h1v1h-1zM100 252h1v1h-1zM342 252h1v1h-1zM1315 252h1v1h-1zM101 253h1v1h-1zM340 253h2v1h-2zM1316 253h1v1h-1zM102 254h1v1h-1zM339 254h1v1h-1zM1317 254h1v1h-1zM103 255h1v1h-1zM337 255h2v1h-2zM1318 255h1v1h-1zM104 256h1v1h-1zM281 256h10v1h-10zM336 256h1v1h-1zM1319 256h1v1h-1zM105 257h2v1h-2zM269 257h12v1h-12zM291 257h6v1h-6zM335 257h1v1h-1zM1320 257h1v1h-1zM107 258h1v1h-1zM261 258h8v1h-8zM297 258h4v1h-4zM333 258h2v1h-2zM1321 258h1v1h-1zM108 259h1v1h-1zM259 259h2v1h-2zM301 259h2v1h-2zM332 259h1v1h-1zM1322 259h1v1h-1zM109 260h1v1h-1zM256 260h3v1h-3zM303 260h3v1h-3zM330 260h2v1h-2zM1323 260h1v1h-1zM110 261h1v1h-1zM253 261h3v1h-3zM306 261h3v1h-3zM328 261h2v1h-2zM1324 261h1v1h-1zM111 262h1v1h-1zM251 262h2v1h-2zM309 262h2v1h-2zM326 262h2v1h-2zM1325 262h1v1h-1zM112 263h1v1h-1zM199 263h8v1h-8zM248 263h3v1h-3zM311 263h3v1h-3zM323 263h3v1h-3zM1326 263h1v2h-1zM113 264h1v1h-1zM197 264h2v1h-2zM207 264h7v1h-7zM245 264h3v1h-3zM314 264h4v1h-4zM321 264h2v1h-2zM114 265h2v1h-2zM194 265h3v1h-3zM214 265h4v1h-4zM242 265h3v1h-3zM318 265h3v1h-3zM1327 265h1v1h-1zM116 266h1v1h-1zM191 266h3v1h-3zM218 266h3v1h-3zM239 266h3v1h-3zM1328 266h1v1h-1zM117 267h1v1h-1zM189 267h2v1h-2zM221 267h18v1h-18zM1329 267h1v1h-1zM118 268h1v1h-1zM186 268h3v1h-3zM1330 268h1v1h-1zM119 269h2v1h-2zM184 269h2v1h-2zM1331 269h1v1h-1zM121 270h1v1h-1zM182 270h2v1h-2zM1332 270h1v1h-1zM122 271h1v1h-1zM179 271h3v1h-3zM1333 271h1v1h-1zM123 272h2v1h-2zM177 272h2v1h-2zM1334 272h1v1h-1zM125 273h2v1h-2zM174 273h3v1h-3zM1335 273h1v1h-1zM127 274h2v1h-2zM172 274h2v1h-2zM1336 274h1v1h-1zM129 275h2v1h-2zM170 275h2v1h-2zM1337 275h1v1h-1zM131 276h2v1h-2zM168 276h2v1h-2zM1338 276h2v1h-2zM133 277h2v1h-2zM166 277h2v1h-2zM1340 277h1v1h-1zM135 278h3v1h-3zM164 278h2v1h-2zM1341 278h1v1h-1zM138 279h5v1h-5zM160 279h4v1h-4zM1342 279h1v1h-1zM143 280h5v1h-5zM154 280h6v1h-6zM1343 280h1v1h-1zM148 281h6v1h-6zM1344 281h1v1h-1zM1345 282h1v2h-1zM1346 284h1v2h-1zM1347 286h1v2h-1zM1348 288h1v2h-1zM1349 290h1v2h-1zM1350 292h1v2h-1zM1351 294h1v2h-1zM1352 296h1v3h-1zM1353 299h1v2h-1zM1354 301h1v2h-1zM1355 303h1v2h-1zM1356 305h1v3h-1zM1357 308h1v2h-1zM1358 310h1v2h-1zM1359 312h1v2h-1zM1360 314h1v3h-1zM1361 317h1v2h-1zM1362 319h1v3h-1zM1363 322h1v2h-1zM1364 324h1v3h-1zM1365 327h1v2h-1zM1366 329h1v3h-1zM1367 332h1v2h-1zM1368 334h1v3h-1zM1369 337h1v2h-1zM1370 339h1v3h-1zM1371 342h1v2h-1zM1372 344h1v2h-1zM1373 346h1v2h-1zM1374 348h1v2h-1zM1375 350h1v2h-1zM1376 352h1v2h-1zM1377 354h1v2h-1zM1378 356h1v1h-1z" fill="#30aa66" shape-rendering="crispEdges"/>
<path d="M927 122h3v1h-3zM925 123h2v1h-2zM930 123h2v1h-2zM922 124h3v1h-3zM932 124h2v1h-2zM920 125h2v1h-2zM934 125h3v1h-3zM919 126h1v2h-1zM937 126h2v1h-2zM939 127h3v1h-3zM918 128h1v1h-1zM942 128h3v1h-3zM917 129h1v1h-1zM945 129h2v1h-2zM916 130h1v2h-1zM947 130h2v1h-2zM949 131h2v1h-2zM915 132h1v1h-1zM951 132h2v1h-2zM610 133h5v1h-5zM914 133h1v2h-1zM953 133h2v1h-2zM1145 133h2v1h-2zM608 134h2v1h-2zM615 134h3v1h-3zM955 134h1v1h-1zM1141 134h4v1h-4zM1147 134h1v2h-1zM606 135h2v1h-2zM617 135h1v1h-1zM913 135h1v1h-1zM956 135h2v1h-2zM1137 135h4v1h-4zM604 136h2v1h-2zM618 136h1v2h-1zM912 136h1v2h-1zM958 136h2v1h-2zM1131 136h6v1h-6zM1148 136h1v1h-1zM603 137h1v1h-1zM960 137h1v1h-1zM1125 137h6v1h-6zM1149 137h1v2h-1zM602 138h1v1h-1zM619 138h1v2h-1zM911 138h1v1h-1zM961 138h2v1h-2zM1123 138h2v1h-2zM601 139h1v1h-1zM910 139h1v1h-1zM963 139h2v1h-2zM1122 139h1v1h-1zM1150 139h1v2h-1zM600 140h1v1h-1zM620 140h1v2h-1zM909 140h1v2h-1zM965 140h1v1h-1zM1120 140h2v1h-2zM598 141h2v1h-2zM966 141h2v1h-2zM1119 141h1v1h-1zM1151 141h1v1h-1zM597 142h1v1h-1zM621 142h1v2h-1zM908 142h1v1h-1zM968 142h1v1h-1zM1117 142h2v1h-2zM1152 142h1v2h-1zM596 143h1v1h-1zM907 143h1v1h-1zM969 143h2v1h-2zM1116 143h1v1h-1zM595 144h1v1h-1zM622 144h1v2h-1zM906 144h1v1h-1zM971 144h2v1h-2zM1114 144h2v1h-2zM1153 144h1v1h-1zM594 145h1v1h-1zM905 145h1v2h-1zM973 145h2v1h-2zM1112 145h2v1h-2zM1154 145h1v2h-1zM592 146h2v1h-2zM623 146h1v2h-1zM975 146h3v1h-3zM1066 146h3v1h-3zM1108 146h4v1h-4zM591 147h1v1h-1zM904 147h1v1h-1zM978 147h3v1h-3zM1062 147h4v1h-4zM1069 147h2v1h-2zM1104 147h4v1h-4zM1155 147h1v1h-1zM590 148h1v1h-1zM624 148h1v1h-1zM903 148h1v1h-1zM981 148h3v1h-3zM1059 148h3v1h-3zM1071 148h3v1h-3zM1101 148h3v1h-3zM1156 148h1v2h-1zM588 149h2v1h-2zM625 149h1v2h-1zM902 149h1v1h-1zM984 149h3v1h-3zM1057 149h2v1h-2zM1074 149h2v1h-2zM1098 149h3v1h-3zM587 150h1v1h-1zM901 150h1v1h-1zM987 150h4v1h-4zM1055 150h2v1h-2zM1076 150h5v1h-5zM1095 150h3v1h-3zM1157 150h1v2h-1zM585 151h2v1h-2zM626 151h1v1h-1zM900 151h1v2h-1zM991 151h5v1h-5zM1052 151h3v1h-3zM1081 151h6v1h-6zM1092 151h3v1h-3zM582 152h3v1h-3zM627 152h1v1h-1zM996 152h5v1h-5zM1050 152h2v1h-2zM1087 152h5v1h-5zM1158 152h1v2h-1zM577 153h5v1h-5zM628 153h1v2h-1zM899 153h1v1h-1zM1001 153h13v1h-13zM1045 153h5v1h-5zM572 154h5v1h-5zM898 154h1v1h-1zM1014 154h16v1h-16zM1039 154h6v1h-6zM1159 154h1v2h-1zM568 155h4v1h-4zM629 155h1v1h-1zM897 155h1v1h-1zM1030 155h9v1h-9zM565 156h3v1h-3zM630 156h1v1h-1zM896 156h1v1h-1zM1160 156h1v2h-1zM562 157h3v1h-3zM631 157h1v1h-1zM895 157h1v2h-1zM559 158h3v1h-3zM632 158h1v1h-1zM1161 158h1v2h-1zM556 159h3v1h-3zM633 159h1v1h-1zM894 159h1v1h-1zM553 160h3v1h-3zM634 160h2v1h-2zM893 160h1v1h-1zM1162 160h1v1h-1zM551 161h2v1h-2zM636 161h1v1h-1zM892 161h1v1h-1zM1163 161h1v2h-1zM548 162h3v1h-3zM637 162h1v1h-1zM891 162h1v1h-1zM546 163h2v1h-2zM638 163h1v1h-1zM890 163h1v1h-1zM1164 163h1v1h-1zM543 164h3v1h-3zM639 164h1v1h-1zM889 164h1v2h-1zM1165 164h1v2h-1zM541 165h2v1h-2zM640 165h1v1h-1zM538 166h3v1h-3zM641 166h1v2h-1zM888 166h1v1h-1zM1166 166h1v1h-1zM534 167h4v1h-4zM887 167h1v1h-1zM1167 167h1v2h-1zM530 168h4v1h-4zM642 168h1v1h-1zM886 168h1v1h-1zM526 169h4v1h-4zM643 169h1v2h-1zM885 169h1v1h-1zM1168 169h1v1h-1zM523 170h3v1h-3zM884 170h1v1h-1zM1169 170h1v2h-1zM519 171h4v1h-4zM644 171h1v1h-1zM883 171h1v1h-1zM515 172h4v1h-4zM645 172h1v2h-1zM882 172h1v2h-1zM1170 172h1v1h-1zM511 173h4v1h-4zM1171 173h1v1h-1zM496 174h15v1h-15zM646 174h1v1h-1zM881 174h1v1h-1zM1172 174h1v1h-1zM482 175h14v1h-14zM647 175h1v2h-1zM880 175h1v1h-1zM1173 175h1v1h-1zM482 176h1v1h-1zM879 176h1v1h-1zM1174 176h1v1h-1zM481 177h1v2h-1zM648 177h1v1h-1zM878 177h1v2h-1zM1175 177h1v1h-1zM649 178h1v2h-1zM1176 178h1v1h-1zM480 179h1v3h-1zM877 179h1v2h-1zM1177 179h1v1h-1zM650 180h1v1h-1zM1178 180h1v1h-1zM651 181h1v2h-1zM876 181h1v2h-1zM1179 181h1v1h-1zM479 182h1v2h-1zM1180 182h2v1h-2zM652 183h1v1h-1zM875 183h1v3h-1zM1182 183h2v1h-2zM478 184h1v3h-1zM653 184h1v1h-1zM1184 184h2v1h-2zM654 185h1v2h-1zM1186 185h2v1h-2zM874 186h1v2h-1zM1188 186h2v1h-2zM477 187h1v2h-1zM655 187h1v1h-1zM1190 187h2v1h-2zM656 188h1v2h-1zM873 188h1v2h-1zM1192 188h4v1h-4zM476 189h1v3h-1zM1196 189h4v1h-4zM657 190h1v1h-1zM872 190h1v2h-1zM1200 190h4v1h-4zM658 191h1v2h-1zM1204 191h5v1h-5zM475 192h1v2h-1zM871 192h1v3h-1zM1209 192h8v1h-8zM659 193h1v1h-1zM1217 193h8v1h-8zM474 194h1v3h-1zM660 194h1v1h-1zM1225 194h8v1h-8zM661 195h1v2h-1zM870 195h1v2h-1zM1233 195h6v1h-6zM1239 196h2v1h-2zM473 197h1v2h-1zM662 197h1v1h-1zM869 197h1v2h-1zM1241 197h2v1h-2zM663 198h1v2h-1zM1243 198h1v4h-1zM472 199h1v3h-1zM868 199h1v3h-1zM664 200h1v2h-1zM471 202h1v2h-1zM665 202h1v2h-1zM867 202h1v2h-1zM1244 202h1v7h-1zM470 204h1v3h-1zM666 204h1v2h-1zM866 204h1v2h-1zM667 206h1v1h-1zM865 206h1v2h-1zM469 207h1v2h-1zM668 207h1v2h-1zM864 208h1v2h-1zM468 209h1v3h-1zM669 209h1v2h-1zM1245 209h1v6h-1zM863 210h1v3h-1zM670 211h1v2h-1zM467 212h1v2h-1zM671 213h1v2h-1zM862 213h1v2h-1zM466 214h1v3h-1zM672 215h1v1h-1zM861 215h1v2h-1zM1246 215h1v7h-1zM673 216h1v1h-1zM465 217h1v3h-1zM674 217h2v1h-2zM860 217h1v2h-1zM676 218h1v1h-1zM677 219h1v1h-1zM859 219h1v2h-1zM464 220h1v2h-1zM678 220h1v1h-1zM679 221h2v1h-2zM858 221h1v2h-1zM463 222h1v3h-1zM681 222h1v1h-1zM1247 222h1v6h-1zM682 223h1v1h-1zM857 223h1v1h-1zM683 224h2v1h-2zM856 224h1v1h-1zM462 225h1v3h-1zM685 225h2v1h-2zM855 225h1v1h-1zM687 226h1v1h-1zM854 226h1v1h-1zM688 227h2v1h-2zM853 227h1v1h-1zM461 228h1v2h-1zM690 228h1v1h-1zM852 228h1v1h-1zM1248 228h1v4h-1zM691 229h2v1h-2zM851 229h1v1h-1zM460 230h1v3h-1zM693 230h2v1h-2zM850 230h1v1h-1zM695 231h1v1h-1zM849 231h1v1h-1zM696 232h1v1h-1zM847 232h2v1h-2zM1249 232h1v4h-1zM459 233h1v3h-1zM697 233h1v1h-1zM844 233h3v1h-3zM698 234h1v1h-1zM840 234h4v1h-4zM699 235h2v1h-2zM838 235h2v1h-2zM458 236h1v2h-1zM701 236h1v1h-1zM837 236h1v1h-1zM1250 236h1v5h-1zM702 237h1v1h-1zM836 237h1v1h-1zM457 238h1v3h-1zM703 238h1v1h-1zM774 238h4v1h-4zM835 238h1v1h-1zM704 239h1v1h-1zM768 239h6v1h-6zM778 239h2v1h-2zM834 239h1v1h-1zM705 240h1v1h-1zM764 240h4v1h-4zM780 240h3v1h-3zM833 240h1v1h-1zM456 241h1v3h-1zM706 241h1v1h-1zM761 241h3v1h-3zM783 241h2v1h-2zM832 241h1v1h-1zM1251 241h1v4h-1zM707 242h1v2h-1zM758 242h3v1h-3zM785 242h3v1h-3zM831 242h1v1h-1zM756 243h2v1h-2zM788 243h2v1h-2zM830 243h1v1h-1zM455 244h1v3h-1zM708 244h1v1h-1zM753 244h3v1h-3zM790 244h3v1h-3zM829 244h1v1h-1zM709 245h1v1h-1zM750 245h3v1h-3zM793 245h4v1h-4zM828 245h1v1h-1zM1252 245h1v5h-1zM710 246h1v2h-1zM747 246h3v1h-3zM797 246h3v1h-3zM826 246h2v1h-2zM454 247h1v3h-1zM744 247h3v1h-3zM800 247h3v1h-3zM824 247h2v1h-2zM711 248h1v1h-1zM741 248h3v1h-3zM803 248h4v1h-4zM822 248h2v1h-2zM712 249h1v1h-1zM737 249h4v1h-4zM807 249h7v1h-7zM820 249h2v1h-2zM453 250h1v3h-1zM713 250h1v2h-1zM734 250h3v1h-3zM814 250h6v1h-6zM1253 250h1v4h-1zM731 251h3v1h-3zM714 252h1v1h-1zM727 252h4v1h-4zM0 253h1v1h-1zM452 253h1v4h-1zM715 253h12v1h-12zM1 254h1v2h-1zM1254 254h1v4h-1zM2 256h1v1h-1zM3 257h1v2h-1zM451 257h1v3h-1zM1255 258h1v5h-1zM4 259h1v4h-1zM450 260h1v3h-1zM5 263h1v4h-1zM449 263h1v2h-1zM1256 263h1v4h-1zM448 265h1v2h-1zM6 267h1v4h-1zM447 267h1v2h-1zM1257 267h1v5h-1zM446 269h1v2h-1zM7 271h1v3h-1zM445 271h1v2h-1zM1258 272h1v4h-1zM444 273h1v2h-1zM8 274h1v3h-1zM443 275h1v2h-1zM1259 276h1v5h-1zM9 277h1v3h-1zM442 277h1v2h-1zM441 279h1v2h-1zM10 280h1v2h-1zM440 281h1v2h-1zM1260 281h1v4h-1zM11 282h1v3h-1zM439 283h1v2h-1zM12 285h1v2h-1zM438 285h1v1h-1zM1261 285h1v5h-1zM437 286h1v2h-1zM13 287h1v2h-1zM436 288h1v2h-1zM14 289h1v1h-1zM15 290h1v2h-1zM435 290h1v1h-1zM1262 290h1v4h-1zM434 291h1v2h-1zM16 292h1v1h-1zM17 293h1v2h-1zM433 293h1v1h-1zM432 294h1v1h-1zM1263 294h1v5h-1zM18 295h1v1h-1zM431 295h1v2h-1zM19 296h1v2h-1zM430 297h1v1h-1zM20 298h1v2h-1zM429 298h1v1h-1zM428 299h1v2h-1zM1264 299h1v4h-1zM21 300h1v1h-1zM22 301h1v2h-1zM427 301h1v1h-1zM426 302h1v2h-1zM23 303h1v2h-1zM1265 303h1v6h-1zM425 304h1v1h-1zM24 305h1v1h-1zM322 305h1v2h-1zM424 305h1v1h-1zM25 306h1v2h-1zM321 306h1v1h-1zM423 306h1v2h-1zM319 307h2v1h-2zM323 307h1v2h-1zM26 308h1v2h-1zM318 308h1v1h-1zM422 308h1v1h-1zM317 309h1v1h-1zM324 309h1v2h-1zM421 309h1v1h-1zM1266 309h1v6h-1zM27 310h1v1h-1zM315 310h2v1h-2zM420 310h1v2h-1zM28 311h1v2h-1zM314 311h1v1h-1zM325 311h1v3h-1zM281 312h10v1h-10zM313 312h1v1h-1zM419 312h1v1h-1zM29 313h1v2h-1zM271 313h10v1h-10zM291 313h2v1h-2zM311 313h2v1h-2zM418 313h1v1h-1zM269 314h2v1h-2zM293 314h2v1h-2zM309 314h2v1h-2zM326 314h1v2h-1zM417 314h1v1h-1zM30 315h1v2h-1zM267 315h2v1h-2zM295 315h2v1h-2zM307 315h2v1h-2zM416 315h1v1h-1zM1267 315h1v6h-1zM265 316h2v1h-2zM297 316h2v1h-2zM304 316h3v1h-3zM327 316h1v3h-1zM415 316h1v1h-1zM31 317h1v2h-1zM263 317h2v1h-2zM299 317h5v1h-5zM414 317h1v1h-1zM261 318h2v1h-2zM413 318h1v1h-1zM32 319h1v2h-1zM259 319h2v1h-2zM328 319h1v2h-1zM412 319h1v2h-1zM258 320h1v1h-1zM33 321h1v2h-1zM257 321h1v1h-1zM329 321h1v2h-1zM411 321h1v1h-1zM1268 321h1v6h-1zM256 322h1v1h-1zM410 322h1v1h-1zM34 323h1v2h-1zM255 323h1v1h-1zM330 323h1v3h-1zM409 323h1v1h-1zM254 324h1v2h-1zM408 324h1v1h-1zM35 325h1v2h-1zM407 325h1v1h-1zM253 326h1v1h-1zM331 326h1v2h-1zM406 326h1v1h-1zM36 327h1v2h-1zM252 327h1v1h-1zM405 327h1v1h-1zM1269 327h1v6h-1zM251 328h1v1h-1zM332 328h1v2h-1zM404 328h1v1h-1zM37 329h1v2h-1zM250 329h1v1h-1zM403 329h1v1h-1zM249 330h1v1h-1zM333 330h1v3h-1zM402 330h1v1h-1zM38 331h1v2h-1zM248 331h1v2h-1zM401 331h1v1h-1zM400 332h1v1h-1zM39 333h1v2h-1zM247 333h1v1h-1zM334 333h1v2h-1zM399 333h1v1h-1zM1270 333h1v6h-1zM246 334h1v2h-1zM398 334h1v1h-1zM40 335h1v1h-1zM335 335h1v2h-1zM397 335h1v1h-1zM41 336h2v1h-2zM245 336h1v2h-1zM396 336h1v1h-1zM43 337h1v1h-1zM336 337h1v3h-1zM395 337h1v1h-1zM44 338h1v1h-1zM197 338h17v1h-17zM244 338h1v1h-1zM394 338h1v1h-1zM45 339h2v1h-2zM196 339h1v1h-1zM214 339h2v1h-2zM243 339h1v2h-1zM393 339h1v1h-1zM1271 339h1v6h-1zM47 340h2v1h-2zM195 340h1v1h-1zM216 340h2v1h-2zM337 340h1v2h-1zM392 340h1v1h-1zM49 341h2v1h-2zM194 341h1v1h-1zM218 341h2v1h-2zM240 341h3v1h-3zM391 341h1v1h-1zM51 342h3v1h-3zM193 342h1v1h-1zM220 342h2v1h-2zM235 342h5v1h-5zM338 342h1v2h-1zM390 342h1v1h-1zM54 343h3v1h-3zM191 343h2v1h-2zM222 343h13v1h-13zM389 343h1v1h-1zM57 344h2v1h-2zM190 344h1v1h-1zM339 344h1v2h-1zM388 344h1v1h-1zM59 345h2v1h-2zM189 345h1v1h-1zM386 345h2v1h-2zM1272 345h1v6h-1zM61 346h2v1h-2zM188 346h1v1h-1zM340 346h1v2h-1zM385 346h1v1h-1zM63 347h1v1h-1zM187 347h1v1h-1zM384 347h1v1h-1zM64 348h2v1h-2zM186 348h1v1h-1zM341 348h1v1h-1zM383 348h1v1h-1zM66 349h1v1h-1zM184 349h2v1h-2zM342 349h1v2h-1zM382 349h1v1h-1zM67 350h2v1h-2zM183 350h1v1h-1zM381 350h1v1h-1zM69 351h1v1h-1zM182 351h1v1h-1zM343 351h1v1h-1zM380 351h1v2h-1zM1273 351h1v8h-1zM70 352h2v1h-2zM180 352h2v1h-2zM344 352h1v1h-1zM72 353h1v1h-1zM179 353h1v1h-1zM345 353h1v2h-1zM379 353h1v1h-1zM73 354h1v1h-1zM178 354h1v1h-1zM376 354h3v1h-3zM74 355h1v1h-1zM176 355h2v1h-2zM346 355h2v1h-2zM372 355h4v1h-4zM75 356h1v1h-1zM175 356h1v1h-1zM348 356h2v1h-2zM367 356h5v1h-5zM76 357h2v1h-2zM148 357h4v1h-4zM173 357h2v1h-2zM350 357h2v1h-2zM362 357h5v1h-5zM78 358h1v1h-1zM143 358h5v1h-5zM152 358h2v1h-2zM171 358h2v1h-2zM352 358h2v1h-2zM358 358h4v1h-4zM79 359h1v1h-1zM140 359h3v1h-3zM154 359h2v1h-2zM169 359h2v1h-2zM354 359h4v1h-4zM1274 359h1v8h-1zM80 360h1v1h-1zM139 360h1v1h-1zM156 360h2v1h-2zM167 360h2v1h-2zM81 361h1v1h-1zM137 361h2v1h-2zM158 361h2v1h-2zM165 361h2v1h-2zM82 362h1v1h-1zM136 362h1v1h-1zM160 362h2v1h-2zM163 362h2v1h-2zM83 363h1v1h-1zM135 363h1v1h-1zM162 363h1v1h-1zM84 364h1v1h-1zM134 364h1v1h-1zM85 365h1v1h-1zM132 365h2v1h-2zM86 366h1v2h-1zM131 366h1v1h-1zM130 367h1v1h-1zM1275 367h1v7h-1zM87 368h1v1h-1zM129 368h1v1h-1zM88 369h1v1h-1zM127 369h2v1h-2zM89 370h1v1h-1zM126 370h1v1h-1zM90 371h1v1h-1zM125 371h1v1h-1zM91 372h2v1h-2zM124 372h1v1h-1zM93 373h1v1h-1zM122 373h2v1h-2zM94 374h2v1h-2zM121 374h1v1h-1zM1276 374h1v8h-1zM96 375h1v1h-1zM119 375h2v1h-2zM97 376h1v1h-1zM117 376h2v1h-2zM98 377h2v1h-2zM114 377h3v1h-3zM100 378h6v1h-6zM112 378h2v1h-2zM106 379h6v1h-6zM1277 382h1v6h-1zM1278 388h1v6h-1zM1279 394h1v6h-1zM1280 400h1v5h-1zM1281 405h1v6h-1zM1282 411h1v5h-1zM1283 416h1v6h-1zM1284 422h1v6h-1zM1285 428h1v4h-1zM1286 432h1v2h-1zM1287 434h1v3h-1zM1288 437h1v2h-1zM1289 439h1v2h-1zM1290 441h1v3h-1zM1291 444h1v2h-1zM1292 446h1v2h-1zM1293 448h1v2h-1zM1294 450h1v1h-1zM1295 451h1v2h-1zM1296 453h1v1h-1zM1297 454h1v2h-1zM1298 456h1v1h-1zM1299 457h1v2h-1zM1300 459h1v1h-1zM1301 460h1v2h-1zM1302 462h1v1h-1zM1303 463h1v2h-1zM1304 465h1v1h-1zM1305 466h1v2h-1zM1306 468h1v1h-1zM1307 469h1v2h-1zM1308 471h1v1h-1zM1309 472h1v2h-1zM1310 474h1v1h-1zM1311 475h1v2h-1zM1312 477h1v1h-1zM1313 478h1v1h-1zM1314 479h1v1h-1zM1315 480h1v2h-1zM1316 482h1v1h-1zM1317 483h1v1h-1zM1318 484h1v1h-1zM1319 485h1v1h-1zM1320 486h1v1h-1zM1321 487h1v1h-1zM1322 488h1v2h-1zM1323 490h1v1h-1zM1324 491h1v1h-1zM1325 492h1v1h-1zM1326 493h1v1h-1zM1327 494h1v1h-1zM1328 495h2v1h-2zM1330 496h1v1h-1zM1331 497h1v1h-1zM1332 498h2v1h-2zM1334 499h2v1h-2zM1336 500h3v1h-3zM1339 501h3v1h-3zM1342 502h2v1h-2zM1344 503h2v1h-2zM1345 504h1v1h-1zM1346 505h1v2h-1zM1347 507h1v3h-1zM1348 510h1v2h-1zM1349 512h1v2h-1zM1350 514h1v4h-1zM1351 518h1v4h-1zM1352 522h1v4h-1zM1353 526h1v4h-1zM1354 530h1v4h-1zM1355 534h1v3h-1zM1356 537h1v3h-1zM1357 540h1v3h-1zM1358 543h1v3h-1zM1359 546h1v2h-1zM1360 548h1v3h-1zM1361 551h1v3h-1zM1362 554h1v2h-1zM1363 556h1v2h-1zM1364 558h1v2h-1zM1365 560h1v2h-1zM1366 562h1v2h-1zM1367 564h1v2h-1zM1368 566h1v2h-1zM1369 568h1v2h-1zM1370 570h1v2h-1zM1371 572h1v2h-1zM1372 574h1v1h-1z" fill="#30aa66" shape-rendering="crispEdges"/>
<g shape-rendering="crispEdges">
<rect x="0" y="414" width="1640" height="1" fill="#ff0000"/>
<rect x="0" y="446" width="1640" height="1" fill="#ff0000"/>
<rect x="0" y="475" width="1640" height="1" fill="#32cd32"/>
<rect x="0" y="499" width="1645" height="1" fill="#c0c0c0"/>
<rect x="0" y="527" width="1640" height="1" fill="#0000ff"/>
<rect x="0" y="560" width="1640" height="1" fill="#0000ff"/>
</g>
</g>
<g shape-rendering="crispEdges">
<rect x="1073" y="56" width="10" height="1" fill="#ff0000"/>
<rect x="1289" y="280" width="10" height="1" fill="#ff0000"/>
<rect x="1209" y="473" width="3" height="4" fill="#fff" stroke="#ff0000" stroke-width="1"/>
<rect x="1212" y="475" width="7" height="1" fill="#ff0000"/>
<rect x="1273" y="533" width="9" height="1" fill="#ff0000"/>
<rect x="1345" y="558" width="3" height="4" fill="#fff" stroke="#ff0000" stroke-width="1"/>
<rect x="1348" y="560" width="7" height="1" fill="#ff0000"/>
</g>
<rect x="1011.5" y="47.5" width="61" height="18" fill="#fff" stroke="#ff0000" stroke-width="1" shape-rendering="crispEdges"/>
<text x="1013.6" y="63" font-size="16.5" fill="#ff0000" textLength="57.5" lengthAdjust="spacingAndGlyphs">29907.0</text>
<rect x="1227.5" y="271.5" width="61" height="18" fill="#fff" stroke="#ff0000" stroke-width="1" shape-rendering="crispEdges"/>
<text x="1229.6" y="287" font-size="16.5" fill="#ff0000" textLength="57.5" lengthAdjust="spacingAndGlyphs">28776.2</text>
<rect x="1147.5" y="466.5" width="61" height="18" fill="#fff" stroke="#ff0000" stroke-width="1" shape-rendering="crispEdges"/>
<text x="1149.6" y="482" font-size="16.5" fill="#ff0000" textLength="57.5" lengthAdjust="spacingAndGlyphs">27789.9</text>
<rect x="1211.5" y="524.5" width="61" height="18" fill="#fff" stroke="#ff0000" stroke-width="1" shape-rendering="crispEdges"/>
<text x="1213.6" y="540" font-size="16.5" fill="#ff0000" textLength="57.5" lengthAdjust="spacingAndGlyphs">27495.4</text>
<rect x="1283.5" y="551.5" width="61" height="18" fill="#fff" stroke="#ff0000" stroke-width="1" shape-rendering="crispEdges"/>
<text x="1285.6" y="567" font-size="16.5" fill="#ff0000" textLength="57.5" lengthAdjust="spacingAndGlyphs">27360.6</text>
<g clip-path="url(#cMain)"><g shape-rendering="crispEdges">
<rect x="2" y="193" width="1" height="35" fill="#000"/>
<rect x="0" y="217" width="5" height="7" fill="#000"/>
<rect x="10" y="221" width="1" height="117" fill="#000"/>
<rect x="8" y="223" width="5" height="100" fill="#000"/>
<rect x="18" y="295" width="1" height="57" fill="#000"/>
<rect x="16" y="300" width="5" height="22" fill="#000"/>
<rect x="17" y="301" width="3" height="20" fill="#fff"/>
<rect x="26" y="298" width="1" height="47" fill="#000"/>
<rect x="24" y="301" width="5" height="17" fill="#000"/>
<rect x="34" y="303" width="1" height="30" fill="#000"/>
<rect x="32" y="318" width="5" height="12" fill="#000"/>
<rect x="42" y="312" width="1" height="32" fill="#000"/>
<rect x="40" y="313" width="5" height="31" fill="#000"/>
<rect x="41" y="314" width="3" height="29" fill="#fff"/>
<rect x="50" y="239" width="1" height="90" fill="#000"/>
<rect x="48" y="257" width="5" height="59" fill="#000"/>
<rect x="49" y="258" width="3" height="57" fill="#fff"/>
<rect x="58" y="249" width="1" height="40" fill="#000"/>
<rect x="56" y="253" width="5" height="3" fill="#000"/>
<rect x="57" y="254" width="3" height="1" fill="#fff"/>
<rect x="66" y="251" width="1" height="20" fill="#000"/>
<rect x="64" y="253" width="5" height="12" fill="#000"/>
<rect x="74" y="255" width="1" height="45" fill="#000"/>
<rect x="72" y="265" width="5" height="23" fill="#000"/>
<rect x="82" y="286" width="1" height="15" fill="#000"/>
<rect x="80" y="287" width="5" height="6" fill="#000"/>
<rect x="90" y="318" width="1" height="45" fill="#000"/>
<rect x="88" y="328" width="5" height="13" fill="#000"/>
<rect x="98" y="303" width="1" height="42" fill="#000"/>
<rect x="96" y="324" width="5" height="15" fill="#000"/>
<rect x="97" y="325" width="3" height="13" fill="#fff"/>
<rect x="106" y="291" width="1" height="40" fill="#000"/>
<rect x="104" y="303" width="5" height="20" fill="#000"/>
<rect x="105" y="304" width="3" height="18" fill="#fff"/>
<rect x="114" y="291" width="1" height="29" fill="#000"/>
<rect x="112" y="294" width="5" height="8" fill="#000"/>
<rect x="113" y="295" width="3" height="6" fill="#fff"/>
<rect x="122" y="261" width="1" height="36" fill="#000"/>
<rect x="120" y="268" width="5" height="27" fill="#000"/>
<rect x="121" y="269" width="3" height="25" fill="#fff"/>
<rect x="130" y="266" width="1" height="15" fill="#000"/>
<rect x="128" y="268" width="5" height="2" fill="#000"/>
<rect x="138" y="246" width="1" height="34" fill="#000"/>
<rect x="136" y="247" width="5" height="33" fill="#000"/>
<rect x="137" y="248" width="3" height="31" fill="#fff"/>
<rect x="146" y="206" width="1" height="53" fill="#000"/>
<rect x="144" y="211" width="5" height="33" fill="#000"/>
<rect x="145" y="212" width="3" height="31" fill="#fff"/>
<rect x="154" y="196" width="1" height="24" fill="#000"/>
<rect x="152" y="203" width="5" height="9" fill="#000"/>
<rect x="153" y="204" width="3" height="7" fill="#fff"/>
<rect x="162" y="188" width="1" height="18" fill="#000"/>
<rect x="160" y="196" width="5" height="8" fill="#000"/>
<rect x="161" y="197" width="3" height="6" fill="#fff"/>
<rect x="170" y="196" width="1" height="54" fill="#000"/>
<rect x="168" y="196" width="5" height="43" fill="#000"/>
<rect x="178" y="230" width="1" height="16" fill="#000"/>
<rect x="176" y="238" width="5" height="7" fill="#000"/>
<rect x="186" y="220" width="1" height="21" fill="#000"/>
<rect x="184" y="229" width="5" height="3" fill="#000"/>
<rect x="185" y="230" width="3" height="1" fill="#fff"/>
<rect x="194" y="210" width="1" height="55" fill="#000"/>
<rect x="192" y="230" width="5" height="23" fill="#000"/>
<rect x="202" y="221" width="1" height="71" fill="#000"/>
<rect x="200" y="251" width="5" height="37" fill="#000"/>
<rect x="210" y="269" width="1" height="31" fill="#000"/>
<rect x="208" y="283" width="5" height="5" fill="#000"/>
<rect x="209" y="284" width="3" height="3" fill="#fff"/>
<rect x="218" y="261" width="1" height="27" fill="#000"/>
<rect x="216" y="271" width="5" height="12" fill="#000"/>
<rect x="217" y="272" width="3" height="10" fill="#fff"/>
<rect x="226" y="270" width="1" height="40" fill="#000"/>
<rect x="224" y="271" width="5" height="33" fill="#000"/>
<rect x="234" y="275" width="1" height="25" fill="#000"/>
<rect x="232" y="281" width="5" height="16" fill="#000"/>
<rect x="233" y="282" width="3" height="14" fill="#fff"/>
<rect x="242" y="259" width="1" height="42" fill="#000"/>
<rect x="240" y="276" width="5" height="3" fill="#000"/>
<rect x="241" y="277" width="3" height="1" fill="#fff"/>
<rect x="250" y="262" width="1" height="28" fill="#000"/>
<rect x="248" y="272" width="5" height="3" fill="#000"/>
<rect x="249" y="273" width="3" height="1" fill="#fff"/>
<rect x="258" y="266" width="1" height="25" fill="#000"/>
<rect x="256" y="267" width="5" height="6" fill="#000"/>
<rect x="257" y="268" width="3" height="4" fill="#fff"/>
<rect x="266" y="264" width="1" height="12" fill="#000"/>
<rect x="264" y="268" width="5" height="5" fill="#000"/>
<rect x="274" y="252" width="1" height="24" fill="#000"/>
<rect x="272" y="262" width="5" height="12" fill="#000"/>
<rect x="273" y="263" width="3" height="10" fill="#fff"/>
<rect x="282" y="268" width="1" height="16" fill="#000"/>
<rect x="280" y="271" width="5" height="5" fill="#000"/>
<rect x="281" y="272" width="3" height="3" fill="#fff"/>
<rect x="290" y="233" width="1" height="110" fill="#000"/>
<rect x="288" y="257" width="5" height="15" fill="#000"/>
<rect x="289" y="258" width="3" height="13" fill="#fff"/>
<rect x="298" y="251" width="1" height="47" fill="#000"/>
<rect x="296" y="257" width="5" height="36" fill="#000"/>
<rect x="306" y="260" width="1" height="35" fill="#000"/>
<rect x="304" y="266" width="5" height="26" fill="#000"/>
<rect x="305" y="267" width="3" height="24" fill="#fff"/>
<rect x="314" y="236" width="1" height="30" fill="#000"/>
<rect x="312" y="250" width="5" height="16" fill="#000"/>
<rect x="313" y="251" width="3" height="14" fill="#fff"/>
<rect x="322" y="226" width="1" height="33" fill="#000"/>
<rect x="320" y="230" width="5" height="20" fill="#000"/>
<rect x="321" y="231" width="3" height="18" fill="#fff"/>
<rect x="330" y="144" width="1" height="22" fill="#000"/>
<rect x="328" y="148" width="5" height="10" fill="#000"/>
<rect x="329" y="149" width="3" height="8" fill="#fff"/>
<rect x="338" y="111" width="1" height="49" fill="#000"/>
<rect x="336" y="124" width="5" height="22" fill="#000"/>
<rect x="337" y="125" width="3" height="20" fill="#fff"/>
<rect x="346" y="106" width="1" height="27" fill="#000"/>
<rect x="344" y="121" width="5" height="4" fill="#000"/>
<rect x="345" y="122" width="3" height="2" fill="#fff"/>
<rect x="354" y="116" width="1" height="25" fill="#000"/>
<rect x="352" y="120" width="5" height="19" fill="#000"/>
<rect x="362" y="120" width="1" height="40" fill="#000"/>
<rect x="360" y="138" width="5" height="9" fill="#000"/>
<rect x="370" y="123" width="1" height="28" fill="#000"/>
<rect x="368" y="132" width="5" height="15" fill="#000"/>
<rect x="369" y="133" width="3" height="13" fill="#fff"/>
<rect x="378" y="127" width="1" height="20" fill="#000"/>
<rect x="376" y="141" width="5" height="2" fill="#000"/>
<rect x="386" y="119" width="1" height="30" fill="#000"/>
<rect x="384" y="135" width="5" height="5" fill="#000"/>
<rect x="385" y="136" width="3" height="3" fill="#fff"/>
<rect x="394" y="132" width="1" height="25" fill="#000"/>
<rect x="392" y="134" width="5" height="10" fill="#000"/>
<rect x="402" y="135" width="1" height="11" fill="#000"/>
<rect x="400" y="136" width="5" height="8" fill="#000"/>
<rect x="401" y="137" width="3" height="6" fill="#fff"/>
<rect x="410" y="129" width="1" height="14" fill="#000"/>
<rect x="408" y="135" width="5" height="2" fill="#000"/>
<rect x="418" y="130" width="1" height="12" fill="#000"/>
<rect x="416" y="134" width="5" height="2" fill="#000"/>
<rect x="426" y="133" width="1" height="16" fill="#000"/>
<rect x="424" y="135" width="5" height="10" fill="#000"/>
<rect x="434" y="136" width="1" height="22" fill="#000"/>
<rect x="432" y="145" width="5" height="5" fill="#000"/>
<rect x="442" y="138" width="1" height="18" fill="#000"/>
<rect x="440" y="147" width="5" height="1" fill="#000"/>
<rect x="450" y="133" width="1" height="20" fill="#000"/>
<rect x="448" y="135" width="5" height="12" fill="#000"/>
<rect x="449" y="136" width="3" height="10" fill="#fff"/>
<rect x="458" y="90" width="1" height="62" fill="#000"/>
<rect x="456" y="94" width="5" height="41" fill="#000"/>
<rect x="457" y="95" width="3" height="39" fill="#fff"/>
<rect x="466" y="85" width="1" height="17" fill="#000"/>
<rect x="464" y="88" width="5" height="7" fill="#000"/>
<rect x="465" y="89" width="3" height="5" fill="#fff"/>
<rect x="474" y="49" width="1" height="39" fill="#000"/>
<rect x="472" y="53" width="5" height="23" fill="#000"/>
<rect x="473" y="54" width="3" height="21" fill="#fff"/>
<rect x="482" y="55" width="1" height="41" fill="#000"/>
<rect x="480" y="57" width="5" height="37" fill="#000"/>
<rect x="490" y="67" width="1" height="29" fill="#000"/>
<rect x="488" y="88" width="5" height="4" fill="#000"/>
<rect x="489" y="89" width="3" height="2" fill="#fff"/>
<rect x="498" y="87" width="1" height="21" fill="#000"/>
<rect x="496" y="88" width="5" height="20" fill="#000"/>
<rect x="506" y="98" width="1" height="24" fill="#000"/>
<rect x="504" y="99" width="5" height="8" fill="#000"/>
<rect x="505" y="100" width="3" height="6" fill="#fff"/>
<rect x="514" y="84" width="1" height="22" fill="#000"/>
<rect x="512" y="91" width="5" height="7" fill="#000"/>
<rect x="513" y="92" width="3" height="5" fill="#fff"/>
<rect x="522" y="77" width="1" height="11" fill="#000"/>
<rect x="520" y="80" width="5" height="8" fill="#000"/>
<rect x="530" y="77" width="1" height="63" fill="#000"/>
<rect x="528" y="78" width="5" height="47" fill="#000"/>
<rect x="538" y="101" width="1" height="30" fill="#000"/>
<rect x="536" y="102" width="5" height="23" fill="#000"/>
<rect x="537" y="103" width="3" height="21" fill="#fff"/>
<rect x="546" y="80" width="1" height="23" fill="#000"/>
<rect x="544" y="96" width="5" height="6" fill="#000"/>
<rect x="545" y="97" width="3" height="4" fill="#fff"/>
<rect x="554" y="91" width="1" height="31" fill="#000"/>
<rect x="552" y="94" width="5" height="13" fill="#000"/>
<rect x="562" y="97" width="1" height="17" fill="#000"/>
<rect x="560" y="101" width="5" height="5" fill="#000"/>
<rect x="561" y="102" width="3" height="3" fill="#fff"/>
<rect x="570" y="72" width="1" height="24" fill="#000"/>
<rect x="568" y="87" width="5" height="4" fill="#000"/>
<rect x="569" y="88" width="3" height="2" fill="#fff"/>
<rect x="578" y="90" width="1" height="46" fill="#000"/>
<rect x="576" y="90" width="5" height="35" fill="#000"/>
<rect x="586" y="119" width="1" height="32" fill="#000"/>
<rect x="584" y="126" width="5" height="2" fill="#000"/>
<rect x="594" y="113" width="1" height="15" fill="#000"/>
<rect x="592" y="116" width="5" height="12" fill="#000"/>
<rect x="593" y="117" width="3" height="10" fill="#fff"/>
<rect x="602" y="109" width="1" height="15" fill="#000"/>
<rect x="600" y="110" width="5" height="7" fill="#000"/>
<rect x="601" y="111" width="3" height="5" fill="#fff"/>
<rect x="610" y="102" width="1" height="10" fill="#000"/>
<rect x="608" y="106" width="5" height="4" fill="#000"/>
<rect x="609" y="107" width="3" height="2" fill="#fff"/>
<rect x="618" y="91" width="1" height="21" fill="#000"/>
<rect x="616" y="98" width="5" height="13" fill="#000"/>
<rect x="626" y="78" width="1" height="115" fill="#000"/>
<rect x="624" y="110" width="5" height="76" fill="#000"/>
<rect x="634" y="157" width="1" height="29" fill="#000"/>
<rect x="632" y="161" width="5" height="25" fill="#000"/>
<rect x="633" y="162" width="3" height="23" fill="#fff"/>
<rect x="642" y="154" width="1" height="29" fill="#000"/>
<rect x="640" y="161" width="5" height="22" fill="#000"/>
<rect x="650" y="179" width="1" height="22" fill="#000"/>
<rect x="648" y="183" width="5" height="10" fill="#000"/>
<rect x="658" y="180" width="1" height="14" fill="#000"/>
<rect x="656" y="180" width="5" height="11" fill="#000"/>
<rect x="657" y="181" width="3" height="9" fill="#fff"/>
<rect x="666" y="179" width="1" height="19" fill="#000"/>
<rect x="664" y="188" width="5" height="8" fill="#000"/>
<rect x="674" y="179" width="1" height="44" fill="#000"/>
<rect x="672" y="195" width="5" height="21" fill="#000"/>
<rect x="682" y="182" width="1" height="39" fill="#000"/>
<rect x="680" y="201" width="5" height="13" fill="#000"/>
<rect x="681" y="202" width="3" height="11" fill="#fff"/>
<rect x="690" y="177" width="1" height="34" fill="#000"/>
<rect x="688" y="177" width="5" height="25" fill="#000"/>
<rect x="689" y="178" width="3" height="23" fill="#fff"/>
<rect x="698" y="162" width="1" height="45" fill="#000"/>
<rect x="696" y="176" width="5" height="30" fill="#000"/>
<rect x="706" y="204" width="1" height="33" fill="#000"/>
<rect x="704" y="206" width="5" height="25" fill="#000"/>
<rect x="714" y="223" width="1" height="20" fill="#000"/>
<rect x="712" y="226" width="5" height="5" fill="#000"/>
<rect x="722" y="163" width="1" height="70" fill="#000"/>
<rect x="720" y="187" width="5" height="42" fill="#000"/>
<rect x="721" y="188" width="3" height="40" fill="#fff"/>
<rect x="730" y="158" width="1" height="38" fill="#000"/>
<rect x="728" y="165" width="5" height="21" fill="#000"/>
<rect x="729" y="166" width="3" height="19" fill="#fff"/>
<rect x="738" y="159" width="1" height="18" fill="#000"/>
<rect x="736" y="163" width="5" height="2" fill="#000"/>
<rect x="746" y="144" width="1" height="29" fill="#000"/>
<rect x="744" y="153" width="5" height="10" fill="#000"/>
<rect x="745" y="154" width="3" height="8" fill="#fff"/>
<rect x="754" y="150" width="1" height="10" fill="#000"/>
<rect x="752" y="153" width="5" height="2" fill="#000"/>
<rect x="762" y="143" width="1" height="22" fill="#000"/>
<rect x="760" y="147" width="5" height="6" fill="#000"/>
<rect x="770" y="107" width="1" height="52" fill="#000"/>
<rect x="768" y="126" width="5" height="27" fill="#000"/>
<rect x="769" y="127" width="3" height="25" fill="#fff"/>
<rect x="778" y="111" width="1" height="19" fill="#000"/>
<rect x="776" y="116" width="5" height="10" fill="#000"/>
<rect x="777" y="117" width="3" height="8" fill="#fff"/>
<rect x="786" y="115" width="1" height="8" fill="#000"/>
<rect x="784" y="115" width="5" height="4" fill="#000"/>
<rect x="794" y="96" width="1" height="29" fill="#000"/>
<rect x="792" y="103" width="5" height="16" fill="#000"/>
<rect x="793" y="104" width="3" height="14" fill="#fff"/>
<rect x="802" y="97" width="1" height="8" fill="#000"/>
<rect x="800" y="98" width="5" height="5" fill="#000"/>
<rect x="801" y="99" width="3" height="3" fill="#fff"/>
<rect x="810" y="75" width="1" height="12" fill="#000"/>
<rect x="808" y="82" width="5" height="2" fill="#000"/>
<rect x="818" y="70" width="1" height="30" fill="#000"/>
<rect x="816" y="80" width="5" height="14" fill="#000"/>
<rect x="826" y="84" width="1" height="14" fill="#000"/>
<rect x="824" y="91" width="5" height="2" fill="#000"/>
<rect x="834" y="82" width="1" height="15" fill="#000"/>
<rect x="832" y="90" width="5" height="2" fill="#000"/>
<rect x="842" y="87" width="1" height="25" fill="#000"/>
<rect x="840" y="90" width="5" height="5" fill="#000"/>
<rect x="850" y="91" width="1" height="14" fill="#000"/>
<rect x="848" y="95" width="5" height="1" fill="#000"/>
<rect x="858" y="92" width="1" height="12" fill="#000"/>
<rect x="856" y="95" width="5" height="3" fill="#000"/>
<rect x="857" y="96" width="3" height="1" fill="#fff"/>
<rect x="866" y="46" width="1" height="58" fill="#000"/>
<rect x="864" y="73" width="5" height="21" fill="#000"/>
<rect x="865" y="74" width="3" height="19" fill="#fff"/>
<rect x="874" y="72" width="1" height="24" fill="#000"/>
<rect x="872" y="73" width="5" height="15" fill="#000"/>
<rect x="882" y="77" width="1" height="13" fill="#000"/>
<rect x="880" y="81" width="5" height="6" fill="#000"/>
<rect x="881" y="82" width="3" height="4" fill="#fff"/>
<rect x="890" y="71" width="1" height="20" fill="#000"/>
<rect x="888" y="72" width="5" height="9" fill="#000"/>
<rect x="889" y="73" width="3" height="7" fill="#fff"/>
<rect x="898" y="70" width="1" height="7" fill="#000"/>
<rect x="896" y="71" width="5" height="4" fill="#000"/>
<rect x="906" y="55" width="1" height="22" fill="#000"/>
<rect x="904" y="63" width="5" height="13" fill="#000"/>
<rect x="905" y="64" width="3" height="11" fill="#fff"/>
<rect x="914" y="58" width="1" height="58" fill="#000"/>
<rect x="912" y="59" width="5" height="44" fill="#000"/>
<rect x="922" y="90" width="1" height="16" fill="#000"/>
<rect x="920" y="98" width="5" height="4" fill="#000"/>
<rect x="921" y="99" width="3" height="2" fill="#fff"/>
<rect x="930" y="96" width="1" height="25" fill="#000"/>
<rect x="928" y="98" width="5" height="22" fill="#000"/>
<rect x="938" y="110" width="1" height="33" fill="#000"/>
<rect x="936" y="120" width="5" height="10" fill="#000"/>
<rect x="946" y="126" width="1" height="16" fill="#000"/>
<rect x="944" y="128" width="5" height="1" fill="#000"/>
<rect x="954" y="118" width="1" height="19" fill="#000"/>
<rect x="952" y="125" width="5" height="8" fill="#000"/>
<rect x="953" y="126" width="3" height="6" fill="#fff"/>
<rect x="962" y="114" width="1" height="49" fill="#000"/>
<rect x="960" y="124" width="5" height="27" fill="#000"/>
<rect x="970" y="95" width="1" height="60" fill="#000"/>
<rect x="968" y="113" width="5" height="39" fill="#000"/>
<rect x="969" y="114" width="3" height="37" fill="#fff"/>
<rect x="978" y="112" width="1" height="18" fill="#000"/>
<rect x="976" y="113" width="5" height="14" fill="#000"/>
<rect x="986" y="115" width="1" height="39" fill="#000"/>
<rect x="984" y="124" width="5" height="4" fill="#000"/>
<rect x="985" y="125" width="3" height="2" fill="#fff"/>
<rect x="994" y="117" width="1" height="19" fill="#000"/>
<rect x="992" y="121" width="5" height="4" fill="#000"/>
<rect x="993" y="122" width="3" height="2" fill="#fff"/>
<rect x="1002" y="110" width="1" height="15" fill="#000"/>
<rect x="1000" y="115" width="5" height="5" fill="#000"/>
<rect x="1010" y="84" width="1" height="42" fill="#000"/>
<rect x="1008" y="90" width="5" height="31" fill="#000"/>
<rect x="1009" y="91" width="3" height="29" fill="#fff"/>
<rect x="1018" y="84" width="1" height="57" fill="#000"/>
<rect x="1016" y="91" width="5" height="31" fill="#000"/>
<rect x="1026" y="108" width="1" height="37" fill="#000"/>
<rect x="1024" y="117" width="5" height="6" fill="#000"/>
<rect x="1025" y="118" width="3" height="4" fill="#fff"/>
<rect x="1034" y="104" width="1" height="25" fill="#000"/>
<rect x="1032" y="116" width="5" height="3" fill="#000"/>
<rect x="1033" y="117" width="3" height="1" fill="#fff"/>
<rect x="1042" y="112" width="1" height="8" fill="#000"/>
<rect x="1040" y="114" width="5" height="3" fill="#000"/>
<rect x="1041" y="115" width="3" height="1" fill="#fff"/>
<rect x="1050" y="104" width="1" height="20" fill="#000"/>
<rect x="1048" y="105" width="5" height="14" fill="#000"/>
<rect x="1058" y="98" width="1" height="35" fill="#000"/>
<rect x="1056" y="100" width="5" height="17" fill="#000"/>
<rect x="1057" y="101" width="3" height="15" fill="#fff"/>
<rect x="1066" y="76" width="1" height="24" fill="#000"/>
<rect x="1064" y="88" width="5" height="11" fill="#000"/>
<rect x="1065" y="89" width="3" height="9" fill="#fff"/>
<rect x="1074" y="63" width="1" height="36" fill="#000"/>
<rect x="1072" y="65" width="5" height="23" fill="#000"/>
<rect x="1073" y="66" width="3" height="21" fill="#fff"/>
<rect x="1082" y="56" width="1" height="49" fill="#000"/>
<rect x="1080" y="65" width="5" height="21" fill="#000"/>
<rect x="1090" y="70" width="1" height="20" fill="#000"/>
<rect x="1088" y="83" width="5" height="4" fill="#000"/>
<rect x="1089" y="84" width="3" height="2" fill="#fff"/>
<rect x="1098" y="94" width="1" height="11" fill="#000"/>
<rect x="1096" y="101" width="5" height="2" fill="#000"/>
<rect x="1106" y="94" width="1" height="23" fill="#000"/>
<rect x="1104" y="97" width="5" height="6" fill="#000"/>
<rect x="1105" y="98" width="3" height="4" fill="#fff"/>
<rect x="1114" y="93" width="1" height="39" fill="#000"/>
<rect x="1112" y="97" width="5" height="6" fill="#000"/>
<rect x="1122" y="82" width="1" height="33" fill="#000"/>
<rect x="1120" y="82" width="5" height="20" fill="#000"/>
<rect x="1121" y="83" width="3" height="18" fill="#fff"/>
<rect x="1130" y="81" width="1" height="57" fill="#000"/>
<rect x="1128" y="82" width="5" height="33" fill="#000"/>
<rect x="1138" y="100" width="1" height="31" fill="#000"/>
<rect x="1136" y="103" width="5" height="11" fill="#000"/>
<rect x="1137" y="104" width="3" height="9" fill="#fff"/>
<rect x="1146" y="100" width="1" height="13" fill="#000"/>
<rect x="1144" y="103" width="5" height="6" fill="#000"/>
<rect x="1154" y="90" width="1" height="88" fill="#000"/>
<rect x="1152" y="110" width="5" height="58" fill="#000"/>
<rect x="1162" y="154" width="1" height="42" fill="#000"/>
<rect x="1160" y="167" width="5" height="14" fill="#000"/>
<rect x="1170" y="167" width="1" height="27" fill="#000"/>
<rect x="1168" y="180" width="5" height="13" fill="#000"/>
<rect x="1178" y="153" width="1" height="41" fill="#000"/>
<rect x="1176" y="160" width="5" height="32" fill="#000"/>
<rect x="1177" y="161" width="3" height="30" fill="#fff"/>
<rect x="1186" y="152" width="1" height="21" fill="#000"/>
<rect x="1184" y="153" width="5" height="8" fill="#000"/>
<rect x="1185" y="154" width="3" height="6" fill="#fff"/>
<rect x="1194" y="139" width="1" height="14" fill="#000"/>
<rect x="1192" y="151" width="5" height="2" fill="#000"/>
<rect x="1202" y="123" width="1" height="28" fill="#000"/>
<rect x="1200" y="133" width="5" height="15" fill="#000"/>
<rect x="1201" y="134" width="3" height="13" fill="#fff"/>
<rect x="1210" y="127" width="1" height="19" fill="#000"/>
<rect x="1208" y="132" width="5" height="13" fill="#000"/>
<rect x="1218" y="140" width="1" height="11" fill="#000"/>
<rect x="1216" y="141" width="5" height="4" fill="#000"/>
<rect x="1217" y="142" width="3" height="2" fill="#fff"/>
<rect x="1226" y="135" width="1" height="11" fill="#000"/>
<rect x="1224" y="142" width="5" height="1" fill="#000"/>
<rect x="1234" y="140" width="1" height="4" fill="#000"/>
<rect x="1232" y="141" width="5" height="3" fill="#000"/>
<rect x="1233" y="142" width="3" height="1" fill="#fff"/>
<rect x="1242" y="151" width="1" height="24" fill="#000"/>
<rect x="1240" y="151" width="5" height="20" fill="#000"/>
<rect x="1250" y="172" width="1" height="145" fill="#000"/>
<rect x="1248" y="173" width="5" height="136" fill="#000"/>
<rect x="1258" y="280" width="1" height="70" fill="#000"/>
<rect x="1256" y="307" width="5" height="17" fill="#000"/>
<rect x="1266" y="308" width="1" height="48" fill="#000"/>
<rect x="1264" y="323" width="5" height="25" fill="#000"/>
<rect x="1274" y="343" width="1" height="111" fill="#000"/>
<rect x="1272" y="349" width="5" height="76" fill="#000"/>
<rect x="1282" y="425" width="1" height="109" fill="#000"/>
<rect x="1280" y="425" width="5" height="77" fill="#000"/>
<rect x="1290" y="343" width="1" height="46" fill="#000"/>
<rect x="1288" y="363" width="5" height="7" fill="#000"/>
<rect x="1298" y="280" width="1" height="93" fill="#000"/>
<rect x="1296" y="321" width="5" height="48" fill="#000"/>
<rect x="1297" y="322" width="3" height="46" fill="#fff"/>
<rect x="1306" y="316" width="1" height="92" fill="#000"/>
<rect x="1304" y="322" width="5" height="54" fill="#000"/>
<rect x="1314" y="341" width="1" height="45" fill="#000"/>
<rect x="1312" y="360" width="5" height="16" fill="#000"/>
<rect x="1313" y="361" width="3" height="14" fill="#fff"/>
<rect x="1322" y="325" width="1" height="69" fill="#000"/>
<rect x="1320" y="339" width="5" height="20" fill="#000"/>
<rect x="1321" y="340" width="3" height="18" fill="#fff"/>
<rect x="1330" y="336" width="1" height="17" fill="#000"/>
<rect x="1328" y="340" width="5" height="11" fill="#000"/>
<rect x="1338" y="301" width="1" height="32" fill="#000"/>
<rect x="1336" y="307" width="5" height="22" fill="#000"/>
<rect x="1337" y="308" width="3" height="20" fill="#fff"/>
<rect x="1346" y="294" width="1" height="71" fill="#000"/>
<rect x="1344" y="306" width="5" height="33" fill="#000"/>
<rect x="1354" y="336" width="1" height="224" fill="#000"/>
<rect x="1352" y="339" width="5" height="178" fill="#000"/>
<rect x="1362" y="481" width="1" height="45" fill="#000"/>
<rect x="1360" y="498" width="5" height="18" fill="#000"/>
<rect x="1361" y="499" width="3" height="16" fill="#fff"/>
<rect x="1370" y="465" width="1" height="85" fill="#000"/>
<rect x="1368" y="499" width="5" height="4" fill="#000"/>
<rect x="1378" y="488" width="1" height="40" fill="#000"/>
<rect x="1376" y="499" width="5" height="3" fill="#000"/>
<rect x="1377" y="500" width="3" height="1" fill="#fff"/>
</g></g>
<line x1="1218.5" y1="133.0" x2="1276.6" y2="521.6" stroke="#ff0000" stroke-width="3" shape-rendering="crispEdges"/>
<polygon points="1278.0,531.0 1272.3,522.2 1280.8,521.0" fill="#ff0000" shape-rendering="crispEdges"/>
<line x1="1278.0" y1="531.0" x2="1345.2" y2="315.1" stroke="#ff0000" stroke-width="3" shape-rendering="crispEdges"/>
<polygon points="1348.0,306.0 1349.3,316.3 1341.1,313.8" fill="#ff0000" shape-rendering="crispEdges"/>
<line x1="1348.0" y1="306.0" x2="1375.0" y2="560.6" stroke="#ff0000" stroke-width="3" shape-rendering="crispEdges"/>
<polygon points="1376.0,570.0 1370.7,561.0 1379.3,560.1" fill="#ff0000" shape-rendering="crispEdges"/>
<rect x="1328" y="470" width="115" height="12" fill="#00ff00" shape-rendering="crispEdges"/>
<g shape-rendering="crispEdges">
<rect x="0" y="39" width="41" height="25" fill="url(#gTop)"/>
<rect x="156" y="39" width="52" height="25" fill="url(#gTop)"/>
<rect x="0" y="63" width="98" height="33" fill="url(#gBot)"/>
<rect x="100" y="63" width="108" height="33" fill="url(#gBot)"/>
<rect x="0" y="63" width="37" height="1" fill="#f08080"/>
<rect x="160" y="63" width="44" height="1" fill="#f08080"/>
<rect x="41" y="39" width="115" height="24" fill="#fff"/>
<rect x="43.5" y="39.5" width="110" height="21" fill="#fff" stroke="#a8a8a8"/>
<rect x="45" y="41" width="18" height="18" fill="url(#gBtn)"/>
<rect x="133" y="41" width="19" height="18" fill="url(#gBtn)"/>
<rect x="63" y="40" width="1" height="20" fill="#b8b8b8"/><rect x="132" y="40" width="1" height="20" fill="#b8b8b8"/>
</g>
<polygon points="51,48 57,48 54,51.5" fill="#4a5fc0"/>
<polygon points="139,51 145,51 142,47.5" fill="#4a5fc0"/>
<text x="129" y="55" font-size="12.5" fill="#000" text-anchor="end">1.00</text>
<text x="1" y="55" font-size="12" fill="#fff" textLength="26" lengthAdjust="spacingAndGlyphs">SELL</text>
<text x="169.5" y="55" font-size="12" fill="#fff" textLength="23" lengthAdjust="spacingAndGlyphs">BUY</text>
<text x="5.5" y="90" font-size="10.5" font-weight="bold" fill="#fff" textLength="34" lengthAdjust="spacingAndGlyphs">27663</text>
<text x="115" y="90" font-size="10.5" font-weight="bold" fill="#fff" textLength="34.5" lengthAdjust="spacingAndGlyphs">27686</text>
<rect x="44.5" y="87" width="3.6" height="3.6" fill="#fff"/>
<rect x="155.5" y="87" width="3.6" height="3.6" fill="#fff"/>
<text x="51" y="91" font-size="34" fill="#fff" textLength="15" lengthAdjust="spacingAndGlyphs">5</text>
<text x="162" y="91" font-size="34" fill="#fff" textLength="15" lengthAdjust="spacingAndGlyphs">5</text>
<text x="1" y="31.4" font-size="10" fill="#000" textLength="197" lengthAdjust="spacingAndGlyphs" xml:space="preserve">JPN225-,H4  27655.0 27722.5 27527.5 27665.0</text>
<g clip-path="url(#cMacd)"><g shape-rendering="crispEdges">
<rect x="2" y="605" width="1" height="30" fill="#c0c0c0"/>
<rect x="10" y="621" width="1" height="14" fill="#c0c0c0"/>
<rect x="18" y="631" width="1" height="4" fill="#c0c0c0"/>
<rect x="26" y="634" width="1" height="6" fill="#c0c0c0"/>
<rect x="34" y="634" width="1" height="14" fill="#c0c0c0"/>
<rect x="42" y="634" width="1" height="19" fill="#c0c0c0"/>
<rect x="50" y="634" width="1" height="17" fill="#c0c0c0"/>
<rect x="58" y="634" width="1" height="14" fill="#c0c0c0"/>
<rect x="66" y="634" width="1" height="13" fill="#c0c0c0"/>
<rect x="74" y="634" width="1" height="16" fill="#c0c0c0"/>
<rect x="82" y="634" width="1" height="17" fill="#c0c0c0"/>
<rect x="90" y="634" width="1" height="24" fill="#c0c0c0"/>
<rect x="98" y="634" width="1" height="26" fill="#c0c0c0"/>
<rect x="106" y="634" width="1" height="26" fill="#c0c0c0"/>
<rect x="114" y="634" width="1" height="24" fill="#c0c0c0"/>
<rect x="122" y="634" width="1" height="20" fill="#c0c0c0"/>
<rect x="130" y="634" width="1" height="17" fill="#c0c0c0"/>
<rect x="138" y="634" width="1" height="12" fill="#c0c0c0"/>
<rect x="146" y="634" width="1" height="4" fill="#c0c0c0"/>
<rect x="154" y="632" width="1" height="3" fill="#c0c0c0"/>
<rect x="162" y="626" width="1" height="9" fill="#c0c0c0"/>
<rect x="170" y="626" width="1" height="9" fill="#c0c0c0"/>
<rect x="178" y="626" width="1" height="9" fill="#c0c0c0"/>
<rect x="186" y="625" width="1" height="10" fill="#c0c0c0"/>
<rect x="194" y="627" width="1" height="8" fill="#c0c0c0"/>
<rect x="202" y="632" width="1" height="3" fill="#c0c0c0"/>
<rect x="210" y="634" width="1" height="1" fill="#c0c0c0"/>
<rect x="218" y="634" width="1" height="1" fill="#c0c0c0"/>
<rect x="226" y="634" width="1" height="6" fill="#c0c0c0"/>
<rect x="234" y="634" width="1" height="8" fill="#c0c0c0"/>
<rect x="242" y="634" width="1" height="8" fill="#c0c0c0"/>
<rect x="250" y="634" width="1" height="8" fill="#c0c0c0"/>
<rect x="258" y="634" width="1" height="6" fill="#c0c0c0"/>
<rect x="266" y="634" width="1" height="6" fill="#c0c0c0"/>
<rect x="274" y="634" width="1" height="6" fill="#c0c0c0"/>
<rect x="282" y="634" width="1" height="6" fill="#c0c0c0"/>
<rect x="290" y="634" width="1" height="4" fill="#c0c0c0"/>
<rect x="298" y="634" width="1" height="5" fill="#c0c0c0"/>
<rect x="306" y="634" width="1" height="4" fill="#c0c0c0"/>
<rect x="314" y="634" width="1" height="2" fill="#c0c0c0"/>
<rect x="322" y="634" width="1" height="1" fill="#c0c0c0"/>
<rect x="330" y="622" width="1" height="13" fill="#c0c0c0"/>
<rect x="338" y="610" width="1" height="25" fill="#c0c0c0"/>
<rect x="346" y="602" width="1" height="33" fill="#c0c0c0"/>
<rect x="354" y="596" width="1" height="39" fill="#c0c0c0"/>
<rect x="362" y="594" width="1" height="41" fill="#c0c0c0"/>
<rect x="370" y="591" width="1" height="44" fill="#c0c0c0"/>
<rect x="378" y="590" width="1" height="45" fill="#c0c0c0"/>
<rect x="386" y="589" width="1" height="46" fill="#c0c0c0"/>
<rect x="394" y="590" width="1" height="45" fill="#c0c0c0"/>
<rect x="402" y="590" width="1" height="45" fill="#c0c0c0"/>
<rect x="410" y="591" width="1" height="44" fill="#c0c0c0"/>
<rect x="418" y="591" width="1" height="44" fill="#c0c0c0"/>
<rect x="426" y="594" width="1" height="41" fill="#c0c0c0"/>
<rect x="434" y="597" width="1" height="38" fill="#c0c0c0"/>
<rect x="442" y="599" width="1" height="36" fill="#c0c0c0"/>
<rect x="450" y="600" width="1" height="35" fill="#c0c0c0"/>
<rect x="458" y="597" width="1" height="38" fill="#c0c0c0"/>
<rect x="466" y="594" width="1" height="41" fill="#c0c0c0"/>
<rect x="474" y="590" width="1" height="45" fill="#c0c0c0"/>
<rect x="482" y="590" width="1" height="45" fill="#c0c0c0"/>
<rect x="490" y="591" width="1" height="44" fill="#c0c0c0"/>
<rect x="498" y="593" width="1" height="42" fill="#c0c0c0"/>
<rect x="506" y="594" width="1" height="41" fill="#c0c0c0"/>
<rect x="514" y="596" width="1" height="39" fill="#c0c0c0"/>
<rect x="522" y="597" width="1" height="38" fill="#c0c0c0"/>
<rect x="530" y="602" width="1" height="33" fill="#c0c0c0"/>
<rect x="538" y="604" width="1" height="31" fill="#c0c0c0"/>
<rect x="546" y="605" width="1" height="30" fill="#c0c0c0"/>
<rect x="554" y="608" width="1" height="27" fill="#c0c0c0"/>
<rect x="562" y="610" width="1" height="25" fill="#c0c0c0"/>
<rect x="570" y="610" width="1" height="25" fill="#c0c0c0"/>
<rect x="578" y="614" width="1" height="21" fill="#c0c0c0"/>
<rect x="586" y="618" width="1" height="17" fill="#c0c0c0"/>
<rect x="594" y="620" width="1" height="15" fill="#c0c0c0"/>
<rect x="602" y="621" width="1" height="14" fill="#c0c0c0"/>
<rect x="610" y="622" width="1" height="13" fill="#c0c0c0"/>
<rect x="618" y="623" width="1" height="12" fill="#c0c0c0"/>
<rect x="626" y="632" width="1" height="3" fill="#c0c0c0"/>
<rect x="634" y="634" width="1" height="1" fill="#c0c0c0"/>
<rect x="642" y="634" width="1" height="7" fill="#c0c0c0"/>
<rect x="650" y="634" width="1" height="12" fill="#c0c0c0"/>
<rect x="658" y="634" width="1" height="14" fill="#c0c0c0"/>
<rect x="666" y="634" width="1" height="19" fill="#c0c0c0"/>
<rect x="674" y="634" width="1" height="24" fill="#c0c0c0"/>
<rect x="682" y="634" width="1" height="26" fill="#c0c0c0"/>
<rect x="690" y="634" width="1" height="24" fill="#c0c0c0"/>
<rect x="698" y="634" width="1" height="26" fill="#c0c0c0"/>
<rect x="706" y="634" width="1" height="30" fill="#c0c0c0"/>
<rect x="714" y="634" width="1" height="32" fill="#c0c0c0"/>
<rect x="722" y="634" width="1" height="29" fill="#c0c0c0"/>
<rect x="730" y="634" width="1" height="24" fill="#c0c0c0"/>
<rect x="738" y="634" width="1" height="20" fill="#c0c0c0"/>
<rect x="746" y="634" width="1" height="14" fill="#c0c0c0"/>
<rect x="754" y="634" width="1" height="12" fill="#c0c0c0"/>
<rect x="762" y="634" width="1" height="8" fill="#c0c0c0"/>
<rect x="770" y="634" width="1" height="2" fill="#c0c0c0"/>
<rect x="778" y="634" width="1" height="1" fill="#c0c0c0"/>
<rect x="786" y="629" width="1" height="6" fill="#c0c0c0"/>
<rect x="794" y="624" width="1" height="11" fill="#c0c0c0"/>
<rect x="802" y="620" width="1" height="15" fill="#c0c0c0"/>
<rect x="810" y="616" width="1" height="19" fill="#c0c0c0"/>
<rect x="818" y="614" width="1" height="21" fill="#c0c0c0"/>
<rect x="826" y="612" width="1" height="23" fill="#c0c0c0"/>
<rect x="834" y="611" width="1" height="24" fill="#c0c0c0"/>
<rect x="842" y="611" width="1" height="24" fill="#c0c0c0"/>
<rect x="850" y="611" width="1" height="24" fill="#c0c0c0"/>
<rect x="858" y="611" width="1" height="24" fill="#c0c0c0"/>
<rect x="866" y="610" width="1" height="25" fill="#c0c0c0"/>
<rect x="874" y="610" width="1" height="25" fill="#c0c0c0"/>
<rect x="882" y="610" width="1" height="25" fill="#c0c0c0"/>
<rect x="890" y="609" width="1" height="26" fill="#c0c0c0"/>
<rect x="898" y="608" width="1" height="27" fill="#c0c0c0"/>
<rect x="906" y="608" width="1" height="27" fill="#c0c0c0"/>
<rect x="914" y="612" width="1" height="23" fill="#c0c0c0"/>
<rect x="922" y="615" width="1" height="20" fill="#c0c0c0"/>
<rect x="930" y="620" width="1" height="15" fill="#c0c0c0"/>
<rect x="938" y="624" width="1" height="11" fill="#c0c0c0"/>
<rect x="946" y="628" width="1" height="7" fill="#c0c0c0"/>
<rect x="954" y="631" width="1" height="4" fill="#c0c0c0"/>
<rect x="962" y="634" width="1" height="1" fill="#c0c0c0"/>
<rect x="970" y="634" width="1" height="1" fill="#c0c0c0"/>
<rect x="978" y="634" width="1" height="2" fill="#c0c0c0"/>
<rect x="986" y="634" width="1" height="2" fill="#c0c0c0"/>
<rect x="994" y="634" width="1" height="2" fill="#c0c0c0"/>
<rect x="1002" y="634" width="1" height="2" fill="#c0c0c0"/>
<rect x="1010" y="634" width="1" height="1" fill="#c0c0c0"/>
<rect x="1018" y="634" width="1" height="1" fill="#c0c0c0"/>
<rect x="1026" y="634" width="1" height="1" fill="#c0c0c0"/>
<rect x="1034" y="634" width="1" height="1" fill="#c0c0c0"/>
<rect x="1042" y="634" width="1" height="1" fill="#c0c0c0"/>
<rect x="1050" y="634" width="1" height="1" fill="#c0c0c0"/>
<rect x="1058" y="634" width="1" height="1" fill="#c0c0c0"/>
<rect x="1066" y="632" width="1" height="3" fill="#c0c0c0"/>
<rect x="1074" y="628" width="1" height="7" fill="#c0c0c0"/>
<rect x="1082" y="626" width="1" height="9" fill="#c0c0c0"/>
<rect x="1090" y="625" width="1" height="10" fill="#c0c0c0"/>
<rect x="1098" y="627" width="1" height="8" fill="#c0c0c0"/>
<rect x="1106" y="627" width="1" height="8" fill="#c0c0c0"/>
<rect x="1114" y="628" width="1" height="7" fill="#c0c0c0"/>
<rect x="1122" y="628" width="1" height="7" fill="#c0c0c0"/>
<rect x="1130" y="629" width="1" height="6" fill="#c0c0c0"/>
<rect x="1138" y="630" width="1" height="5" fill="#c0c0c0"/>
<rect x="1146" y="631" width="1" height="4" fill="#c0c0c0"/>
<rect x="1154" y="634" width="1" height="4" fill="#c0c0c0"/>
<rect x="1162" y="634" width="1" height="11" fill="#c0c0c0"/>
<rect x="1170" y="634" width="1" height="17" fill="#c0c0c0"/>
<rect x="1178" y="634" width="1" height="19" fill="#c0c0c0"/>
<rect x="1186" y="634" width="1" height="19" fill="#c0c0c0"/>
<rect x="1194" y="634" width="1" height="19" fill="#c0c0c0"/>
<rect x="1202" y="634" width="1" height="17" fill="#c0c0c0"/>
<rect x="1210" y="634" width="1" height="16" fill="#c0c0c0"/>
<rect x="1218" y="634" width="1" height="15" fill="#c0c0c0"/>
<rect x="1226" y="634" width="1" height="14" fill="#c0c0c0"/>
<rect x="1234" y="634" width="1" height="12" fill="#c0c0c0"/>
<rect x="1242" y="634" width="1" height="14" fill="#c0c0c0"/>
<rect x="1250" y="634" width="1" height="30" fill="#c0c0c0"/>
<rect x="1258" y="634" width="1" height="44" fill="#c0c0c0"/>
<rect x="1266" y="634" width="1" height="57" fill="#c0c0c0"/>
<rect x="1274" y="634" width="1" height="75" fill="#c0c0c0"/>
<rect x="1282" y="634" width="1" height="95" fill="#c0c0c0"/>
<rect x="1290" y="634" width="1" height="97" fill="#c0c0c0"/>
<rect x="1298" y="634" width="1" height="92" fill="#c0c0c0"/>
<rect x="1306" y="634" width="1" height="93" fill="#c0c0c0"/>
<rect x="1314" y="634" width="1" height="90" fill="#c0c0c0"/>
<rect x="1322" y="634" width="1" height="85" fill="#c0c0c0"/>
<rect x="1330" y="634" width="1" height="82" fill="#c0c0c0"/>
<rect x="1338" y="634" width="1" height="72" fill="#c0c0c0"/>
<rect x="1346" y="634" width="1" height="76" fill="#c0c0c0"/>
<rect x="1354" y="634" width="1" height="84" fill="#c0c0c0"/>
<rect x="1362" y="634" width="1" height="92" fill="#c0c0c0"/>
<rect x="1370" y="634" width="1" height="96" fill="#c0c0c0"/>
<rect x="1378" y="634" width="1" height="102" fill="#c0c0c0"/>
</g>
<path d="M0 585h1v1h-1zM1 586h2v1h-2zM6 589h2v1h-2zM8 590h1v1h-1zM420 590h3v1h-3zM426 590h1v1h-1zM414 591h3v1h-3zM427 591h2v1h-2zM432 591h3v1h-3zM12 592h1v1h-1zM409 592h2v1h-2zM438 592h3v1h-3zM13 593h1v1h-1zM408 593h1v1h-1zM444 593h3v1h-3zM450 593h1v1h-1zM512 593h1v1h-1zM516 593h3v1h-3zM522 593h3v1h-3zM528 593h3v1h-3zM534 593h3v1h-3zM14 594h1v1h-1zM402 594h3v1h-3zM451 594h2v1h-2zM456 594h3v1h-3zM462 594h3v1h-3zM468 594h3v1h-3zM474 594h3v1h-3zM480 594h3v1h-3zM486 594h3v1h-3zM492 594h3v1h-3zM498 594h3v1h-3zM504 594h3v1h-3zM510 594h2v1h-2zM540 594h3v1h-3zM546 595h1v1h-1zM398 596h1v1h-1zM547 596h2v1h-2zM18 597h1v1h-1zM396 597h2v1h-2zM552 597h2v1h-2zM19 598h2v1h-2zM554 598h1v1h-1zM392 599h1v1h-1zM558 599h3v1h-3zM390 600h2v1h-2zM564 600h1v1h-1zM24 601h1v1h-1zM565 601h2v1h-2zM25 602h1v1h-1zM386 602h1v1h-1zM570 602h3v1h-3zM26 603h1v1h-1zM385 603h1v1h-1zM576 603h1v1h-1zM384 604h1v1h-1zM577 604h2v1h-2zM582 605h1v1h-1zM380 606h1v1h-1zM583 606h2v1h-2zM30 607h1v1h-1zM379 607h1v1h-1zM588 607h1v1h-1zM31 608h1v1h-1zM378 608h1v1h-1zM589 608h2v1h-2zM32 609h1v1h-1zM594 609h2v1h-2zM900 609h3v1h-3zM906 609h3v1h-3zM912 609h3v1h-3zM596 610h1v1h-1zM600 610h1v1h-1zM882 610h3v1h-3zM888 610h3v1h-3zM894 610h3v1h-3zM918 610h3v1h-3zM924 610h3v1h-3zM374 611h1v1h-1zM601 611h2v1h-2zM870 611h3v1h-3zM876 611h3v1h-3zM930 611h3v1h-3zM36 612h1v1h-1zM372 612h2v1h-2zM606 612h3v1h-3zM864 612h3v1h-3zM936 612h3v1h-3zM37 613h1v1h-1zM612 613h1v1h-1zM859 613h2v1h-2zM942 613h2v1h-2zM38 614h1v1h-1zM613 614h2v1h-2zM858 614h1v1h-1zM944 614h1v1h-1zM948 614h1v1h-1zM368 615h1v1h-1zM618 615h1v1h-1zM852 615h3v1h-3zM949 615h2v1h-2zM367 616h1v1h-1zM619 616h2v1h-2zM848 616h1v1h-1zM954 616h3v1h-3zM366 617h1v1h-1zM624 617h1v1h-1zM846 617h2v1h-2zM42 618h1v1h-1zM625 618h2v1h-2zM842 618h1v1h-1zM960 618h2v1h-2zM43 619h1v1h-1zM630 619h1v1h-1zM840 619h2v1h-2zM962 619h1v1h-1zM44 620h1v1h-1zM361 620h2v1h-2zM631 620h2v1h-2zM835 620h2v1h-2zM966 620h2v1h-2zM360 621h1v1h-1zM636 621h1v1h-1zM834 621h1v1h-1zM968 621h1v1h-1zM637 622h2v1h-2zM972 622h1v1h-1zM48 623h1v1h-1zM355 623h2v1h-2zM829 623h2v1h-2zM973 623h2v1h-2zM49 624h1v1h-1zM354 624h1v1h-1zM642 624h1v1h-1zM828 624h1v1h-1zM50 625h1v1h-1zM643 625h2v1h-2zM978 625h1v1h-1zM349 626h2v1h-2zM824 626h1v1h-1zM979 626h2v1h-2zM348 627h1v1h-1zM648 627h2v1h-2zM823 627h1v1h-1zM1118 627h1v1h-1zM1122 627h3v1h-3zM1128 627h3v1h-3zM1134 627h3v1h-3zM1140 627h3v1h-3zM1146 627h3v1h-3zM216 628h3v1h-3zM222 628h3v1h-3zM650 628h1v1h-1zM822 628h1v1h-1zM984 628h3v1h-3zM1110 628h3v1h-3zM1116 628h2v1h-2zM1152 628h3v1h-3zM54 629h1v1h-1zM206 629h1v1h-1zM210 629h3v1h-3zM228 629h3v1h-3zM344 629h1v1h-1zM654 629h1v1h-1zM990 629h1v1h-1zM1104 629h3v1h-3zM1158 629h1v1h-1zM55 630h2v1h-2zM204 630h2v1h-2zM234 630h2v1h-2zM343 630h1v1h-1zM655 630h2v1h-2zM817 630h2v1h-2zM991 630h2v1h-2zM1098 630h3v1h-3zM1159 630h2v1h-2zM198 631h3v1h-3zM236 631h1v1h-1zM342 631h1v1h-1zM816 631h1v1h-1zM996 631h3v1h-3zM1088 631h1v1h-1zM1092 631h3v1h-3zM1164 631h3v1h-3zM194 632h1v1h-1zM240 632h2v1h-2zM660 632h1v1h-1zM1002 632h1v1h-1zM1080 632h3v1h-3zM1086 632h2v1h-2zM60 633h2v1h-2zM192 633h2v1h-2zM242 633h1v1h-1zM338 633h1v1h-1zM661 633h2v1h-2zM811 633h2v1h-2zM1003 633h2v1h-2zM1074 633h3v1h-3zM1170 633h3v1h-3zM62 634h1v1h-1zM187 634h2v1h-2zM246 634h3v1h-3zM336 634h2v1h-2zM810 634h1v1h-1zM1008 634h3v1h-3zM1068 634h3v1h-3zM1176 634h1v1h-1zM186 635h1v1h-1zM330 635h3v1h-3zM666 635h1v1h-1zM1014 635h3v1h-3zM1020 635h2v1h-2zM1056 635h3v1h-3zM1062 635h3v1h-3zM1177 635h2v1h-2zM252 636h3v1h-3zM326 636h1v1h-1zM667 636h2v1h-2zM805 636h2v1h-2zM1022 636h1v1h-1zM1026 636h3v1h-3zM1032 636h3v1h-3zM1038 636h3v1h-3zM1044 636h3v1h-3zM1050 636h3v1h-3zM66 637h1v1h-1zM181 637h2v1h-2zM258 637h1v1h-1zM324 637h2v1h-2zM804 637h1v1h-1zM1182 637h3v1h-3zM67 638h2v1h-2zM180 638h1v1h-1zM259 638h2v1h-2zM264 638h2v1h-2zM319 638h2v1h-2zM672 638h1v1h-1zM266 639h1v1h-1zM270 639h3v1h-3zM276 639h2v1h-2zM312 639h3v1h-3zM318 639h1v1h-1zM673 639h1v1h-1zM799 639h2v1h-2zM1188 639h2v1h-2zM175 640h2v1h-2zM278 640h1v1h-1zM282 640h3v1h-3zM288 640h3v1h-3zM294 640h3v1h-3zM300 640h3v1h-3zM306 640h3v1h-3zM674 640h1v1h-1zM798 640h1v1h-1zM1190 640h1v1h-1zM174 641h1v1h-1zM72 642h2v1h-2zM678 642h2v1h-2zM793 642h2v1h-2zM1194 642h2v1h-2zM74 643h1v1h-1zM169 643h2v1h-2zM680 643h1v1h-1zM792 643h1v1h-1zM1196 643h1v1h-1zM168 644h1v1h-1zM78 645h1v1h-1zM684 645h1v1h-1zM787 645h2v1h-2zM1200 645h3v1h-3zM79 646h2v1h-2zM163 646h2v1h-2zM685 646h2v1h-2zM786 646h1v1h-1zM1206 646h2v1h-2zM162 647h1v1h-1zM1208 647h1v1h-1zM1212 647h1v1h-1zM84 648h1v1h-1zM690 648h2v1h-2zM781 648h2v1h-2zM1213 648h2v1h-2zM85 649h2v1h-2zM157 649h2v1h-2zM692 649h1v1h-1zM780 649h1v1h-1zM1218 649h3v1h-3zM156 650h1v1h-1zM696 650h1v1h-1zM1224 650h3v1h-3zM1230 650h3v1h-3zM1236 650h3v1h-3zM1242 650h1v1h-1zM90 651h3v1h-3zM150 651h3v1h-3zM697 651h2v1h-2zM775 651h2v1h-2zM1243 651h2v1h-2zM96 652h3v1h-3zM144 652h3v1h-3zM702 652h2v1h-2zM774 652h1v1h-1zM1248 652h3v1h-3zM102 653h3v1h-3zM108 653h3v1h-3zM134 653h1v1h-1zM138 653h3v1h-3zM704 653h1v1h-1zM769 653h2v1h-2zM1254 653h3v1h-3zM114 654h3v1h-3zM120 654h3v1h-3zM126 654h3v1h-3zM132 654h2v1h-2zM708 654h1v1h-1zM768 654h1v1h-1zM709 655h2v1h-2zM762 655h3v1h-3zM1260 655h1v1h-1zM1261 656h2v1h-2zM714 657h1v1h-1zM756 657h3v1h-3zM715 658h2v1h-2zM751 658h2v1h-2zM720 659h3v1h-3zM726 659h1v1h-1zM740 659h1v1h-1zM744 659h3v1h-3zM750 659h1v1h-1zM1266 659h2v1h-2zM727 660h2v1h-2zM732 660h3v1h-3zM738 660h2v1h-2zM1268 660h1v1h-1zM1272 663h1v1h-1zM1273 664h2v1h-2zM1277 668h1v1h-1zM1278 669h1v1h-1zM1279 670h1v1h-1zM1282 674h1v1h-1zM1283 675h1v1h-1zM1284 676h1v1h-1zM1287 680h1v1h-1zM1288 681h1v1h-1zM1289 682h1v1h-1zM1292 686h1v1h-1zM1293 687h1v1h-1zM1294 688h1v1h-1zM1298 692h1v1h-1zM1299 693h1v1h-1zM1300 694h1v1h-1zM1303 698h1v1h-1zM1304 699h1v1h-1zM1305 700h1v1h-1zM1309 704h1v1h-1zM1310 705h1v1h-1zM1311 706h1v1h-1zM1315 710h1v1h-1zM1316 711h2v1h-2zM1321 714h1v1h-1zM1322 715h1v1h-1zM1323 716h1v1h-1zM1327 718h2v1h-2zM1329 719h1v1h-1zM1351 719h3v1h-3zM1357 719h3v1h-3zM1363 719h3v1h-3zM1369 719h3v1h-3zM1333 720h1v1h-1zM1345 720h3v1h-3zM1375 720h3v1h-3zM1334 721h2v1h-2zM1339 721h3v1h-3z" fill="#ff0000" shape-rendering="crispEdges"/>
</g>
<text x="-9" y="587" font-size="10" fill="#000" textLength="133" lengthAdjust="spacingAndGlyphs">MACD(12,26,9) -394.40 -334.18</text>
<g shape-rendering="crispEdges">
<line x1="0" y1="782.5" x2="1645" y2="782.5" stroke="#c0c0c0" stroke-width="1" stroke-dasharray="3 3"/>
<line x1="0" y1="833.5" x2="1645" y2="833.5" stroke="#c0c0c0" stroke-width="1" stroke-dasharray="3 3"/>
<line x1="0" y1="894.5" x2="1645" y2="894.5" stroke="#c0c0c0" stroke-width="1" stroke-dasharray="3 3"/>
</g>
<path d="M474 788h1v2h-1zM473 789h1v1h-1zM472 790h1v1h-1zM475 790h1v3h-1zM471 791h1v1h-1zM470 792h1v1h-1zM469 793h1v1h-1zM476 793h1v2h-1zM468 794h1v1h-1zM467 795h1v1h-1zM477 795h1v3h-1zM465 796h2v1h-2zM338 797h9v1h-9zM461 797h4v1h-4zM336 798h2v1h-2zM347 798h1v1h-1zM458 798h3v1h-3zM478 798h1v3h-1zM334 799h2v1h-2zM348 799h1v1h-1zM457 799h1v2h-1zM332 800h2v1h-2zM349 800h2v1h-2zM330 801h2v1h-2zM351 801h1v1h-1zM456 801h1v2h-1zM479 801h1v3h-1zM330 802h1v1h-1zM352 802h1v1h-1zM329 803h1v2h-1zM353 803h1v1h-1zM455 803h1v1h-1zM354 804h2v1h-2zM370 804h1v1h-1zM454 804h1v2h-1zM480 804h1v2h-1zM866 804h1v1h-1zM328 805h1v3h-1zM356 805h2v1h-2zM368 805h2v1h-2zM371 805h2v1h-2zM865 805h1v1h-1zM867 805h1v2h-1zM906 805h1v2h-1zM358 806h2v1h-2zM366 806h2v1h-2zM373 806h2v1h-2zM453 806h1v1h-1zM481 806h1v3h-1zM810 806h1v1h-1zM864 806h1v2h-1zM904 806h2v1h-2zM360 807h2v1h-2zM364 807h2v1h-2zM375 807h1v1h-1zM385 807h3v1h-3zM452 807h1v2h-1zM808 807h2v1h-2zM811 807h2v1h-2zM868 807h1v1h-1zM903 807h1v1h-1zM907 807h1v3h-1zM327 808h1v2h-1zM362 808h2v1h-2zM376 808h2v1h-2zM381 808h4v1h-4zM388 808h2v1h-2zM806 808h2v1h-2zM813 808h2v1h-2zM863 808h1v1h-1zM869 808h1v1h-1zM889 808h4v1h-4zM901 808h2v1h-2zM378 809h3v1h-3zM390 809h2v1h-2zM401 809h18v1h-18zM451 809h1v2h-1zM482 809h1v2h-1zM487 809h4v1h-4zM804 809h2v1h-2zM815 809h1v1h-1zM862 809h1v1h-1zM870 809h1v2h-1zM887 809h2v1h-2zM893 809h4v1h-4zM899 809h2v1h-2zM326 810h1v3h-1zM392 810h2v1h-2zM397 810h4v1h-4zM419 810h2v1h-2zM483 810h4v1h-4zM491 810h1v1h-1zM801 810h3v1h-3zM816 810h2v1h-2zM861 810h1v1h-1zM884 810h3v1h-3zM897 810h2v1h-2zM908 810h1v4h-1zM1074 810h1v1h-1zM394 811h3v1h-3zM421 811h2v1h-2zM450 811h1v1h-1zM492 811h1v1h-1zM797 811h4v1h-4zM818 811h19v1h-19zM860 811h1v2h-1zM871 811h1v1h-1zM882 811h2v1h-2zM1073 811h1v1h-1zM1075 811h1v2h-1zM159 812h4v1h-4zM423 812h1v1h-1zM448 812h2v1h-2zM493 812h1v1h-1zM519 812h4v1h-4zM794 812h3v1h-3zM837 812h4v1h-4zM872 812h1v1h-1zM880 812h2v1h-2zM1072 812h1v2h-1zM153 813h6v1h-6zM162 813h1v1h-1zM325 813h1v2h-1zM424 813h2v1h-2zM447 813h1v1h-1zM494 813h1v2h-1zM513 813h6v1h-6zM522 813h1v1h-1zM792 813h2v1h-2zM841 813h6v1h-6zM859 813h1v1h-1zM873 813h1v2h-1zM878 813h2v1h-2zM1076 813h1v2h-1zM151 814h2v1h-2zM163 814h1v2h-1zM426 814h2v1h-2zM445 814h2v1h-2zM509 814h4v1h-4zM523 814h1v2h-1zM791 814h1v1h-1zM847 814h12v1h-12zM876 814h2v1h-2zM909 814h1v3h-1zM1071 814h1v1h-1zM148 815h3v1h-3zM324 815h1v3h-1zM428 815h3v1h-3zM443 815h2v1h-2zM495 815h1v1h-1zM505 815h4v1h-4zM789 815h2v1h-2zM874 815h2v1h-2zM1070 815h1v1h-1zM1077 815h1v1h-1zM146 816h2v1h-2zM164 816h1v2h-1zM431 816h2v1h-2zM439 816h4v1h-4zM496 816h1v1h-1zM503 816h2v1h-2zM524 816h1v2h-1zM777 816h6v1h-6zM787 816h2v1h-2zM1069 816h1v1h-1zM1078 816h1v2h-1zM145 817h1v1h-1zM433 817h6v1h-6zM497 817h1v1h-1zM500 817h3v1h-3zM775 817h2v1h-2zM783 817h4v1h-4zM910 817h1v3h-1zM1068 817h1v2h-1zM144 818h1v2h-1zM165 818h1v2h-1zM323 818h1v2h-1zM498 818h2v1h-2zM525 818h1v2h-1zM570 818h1v2h-1zM772 818h3v1h-3zM1079 818h1v1h-1zM545 819h2v1h-2zM568 819h2v1h-2zM770 819h2v1h-2zM1067 819h1v1h-1zM1080 819h1v2h-1zM143 820h1v1h-1zM166 820h1v2h-1zM322 820h1v2h-1zM526 820h1v3h-1zM543 820h2v1h-2zM547 820h2v1h-2zM567 820h1v1h-1zM571 820h1v2h-1zM769 820h1v1h-1zM911 820h1v3h-1zM1066 820h1v1h-1zM142 821h1v1h-1zM540 821h3v1h-3zM549 821h2v1h-2zM565 821h2v1h-2zM768 821h1v1h-1zM1010 821h1v2h-1zM1064 821h2v1h-2zM1081 821h1v2h-1zM1089 821h2v1h-2zM141 822h1v1h-1zM167 822h1v2h-1zM321 822h1v1h-1zM538 822h2v1h-2zM551 822h1v1h-1zM563 822h2v1h-2zM572 822h1v2h-1zM767 822h1v1h-1zM1009 822h1v2h-1zM1063 822h1v1h-1zM1085 822h4v1h-4zM1091 822h1v2h-1zM1122 822h1v2h-1zM140 823h1v2h-1zM320 823h1v1h-1zM527 823h1v2h-1zM537 823h1v1h-1zM552 823h2v1h-2zM559 823h4v1h-4zM766 823h1v2h-1zM912 823h1v4h-1zM1011 823h1v2h-1zM1061 823h2v1h-2zM1082 823h3v1h-3zM1121 823h1v1h-1zM168 824h1v2h-1zM319 824h1v1h-1zM536 824h1v1h-1zM554 824h5v1h-5zM573 824h1v2h-1zM1008 824h1v2h-1zM1059 824h2v1h-2zM1092 824h1v1h-1zM1120 824h1v2h-1zM1123 824h1v2h-1zM139 825h1v1h-1zM186 825h1v1h-1zM317 825h2v1h-2zM528 825h1v2h-1zM535 825h1v1h-1zM765 825h1v1h-1zM1012 825h1v2h-1zM1058 825h1v1h-1zM1093 825h1v1h-1zM138 826h1v1h-1zM169 826h1v2h-1zM184 826h2v1h-2zM187 826h1v1h-1zM316 826h1v1h-1zM534 826h1v1h-1zM574 826h1v2h-1zM609 826h4v1h-4zM764 826h1v1h-1zM1007 826h1v1h-1zM1057 826h1v1h-1zM1094 826h1v2h-1zM1119 826h1v1h-1zM1124 826h1v2h-1zM137 827h1v1h-1zM183 827h1v1h-1zM188 827h1v1h-1zM315 827h1v1h-1zM529 827h1v2h-1zM533 827h1v1h-1zM605 827h4v1h-4zM613 827h4v1h-4zM763 827h1v1h-1zM913 827h1v3h-1zM1006 827h1v2h-1zM1013 827h1v2h-1zM1056 827h1v2h-1zM1118 827h1v1h-1zM136 828h1v1h-1zM170 828h3v1h-3zM181 828h2v1h-2zM189 828h1v1h-1zM314 828h1v1h-1zM532 828h1v1h-1zM575 828h1v2h-1zM601 828h4v1h-4zM617 828h2v1h-2zM746 828h5v1h-5zM759 828h4v1h-4zM1095 828h1v1h-1zM1117 828h1v1h-1zM1125 828h1v2h-1zM135 829h1v1h-1zM173 829h4v1h-4zM179 829h2v1h-2zM190 829h1v1h-1zM312 829h2v1h-2zM530 829h2v1h-2zM599 829h2v1h-2zM618 829h1v1h-1zM744 829h2v1h-2zM751 829h8v1h-8zM921 829h2v1h-2zM1005 829h1v1h-1zM1014 829h1v2h-1zM1055 829h1v1h-1zM1096 829h1v1h-1zM1105 829h3v1h-3zM1116 829h1v2h-1zM133 830h2v1h-2zM177 830h2v1h-2zM191 830h1v1h-1zM290 830h1v1h-1zM311 830h1v1h-1zM530 830h1v1h-1zM576 830h1v2h-1zM596 830h3v1h-3zM619 830h1v4h-1zM742 830h2v1h-2zM914 830h1v2h-1zM917 830h4v1h-4zM923 830h1v2h-1zM1004 830h1v2h-1zM1054 830h1v1h-1zM1097 830h1v2h-1zM1103 830h2v1h-2zM1108 830h3v1h-3zM1126 830h1v2h-1zM132 831h1v1h-1zM192 831h1v1h-1zM289 831h1v1h-1zM291 831h1v2h-1zM309 831h2v1h-2zM594 831h2v1h-2zM740 831h2v1h-2zM915 831h2v1h-2zM1015 831h1v2h-1zM1053 831h1v1h-1zM1100 831h3v1h-3zM1111 831h2v1h-2zM1115 831h1v1h-1zM122 832h5v1h-5zM131 832h1v1h-1zM193 832h1v1h-1zM274 832h2v1h-2zM287 832h2v1h-2zM307 832h2v1h-2zM577 832h1v2h-1zM592 832h2v1h-2zM730 832h10v1h-10zM924 832h1v1h-1zM1003 832h1v2h-1zM1052 832h1v2h-1zM1098 832h2v1h-2zM1113 832h2v1h-2zM1127 832h1v2h-1zM121 833h1v1h-1zM127 833h4v1h-4zM194 833h1v1h-1zM272 833h2v1h-2zM276 833h2v1h-2zM286 833h1v1h-1zM292 833h1v2h-1zM306 833h1v1h-1zM590 833h2v1h-2zM729 833h1v1h-1zM925 833h1v1h-1zM970 833h1v2h-1zM1016 833h1v2h-1zM1039 833h6v1h-6zM1138 833h3v1h-3zM57 834h3v1h-3zM120 834h1v1h-1zM195 834h1v2h-1zM271 834h1v1h-1zM278 834h2v1h-2zM285 834h1v1h-1zM305 834h1v2h-1zM578 834h1v2h-1zM588 834h2v1h-2zM620 834h1v3h-1zM728 834h1v1h-1zM926 834h1v2h-1zM971 834h2v1h-2zM1001 834h2v1h-2zM1031 834h8v1h-8zM1045 834h4v1h-4zM1051 834h1v1h-1zM1128 834h1v2h-1zM1137 834h1v1h-1zM1141 834h4v1h-4zM0 835h3v1h-3zM53 835h4v1h-4zM60 835h2v1h-2zM119 835h1v1h-1zM255 835h6v1h-6zM269 835h2v1h-2zM280 835h2v1h-2zM283 835h2v1h-2zM293 835h1v2h-1zM579 835h9v1h-9zM727 835h1v1h-1zM969 835h1v2h-1zM973 835h1v1h-1zM997 835h4v1h-4zM1017 835h1v2h-1zM1025 835h6v1h-6zM1049 835h2v1h-2zM1135 835h2v1h-2zM1145 835h2v1h-2zM2 836h1v2h-1zM50 836h3v1h-3zM62 836h2v1h-2zM118 836h1v2h-1zM196 836h1v1h-1zM249 836h6v1h-6zM261 836h4v1h-4zM267 836h2v1h-2zM282 836h1v1h-1zM304 836h1v1h-1zM726 836h1v1h-1zM927 836h1v1h-1zM974 836h1v1h-1zM993 836h4v1h-4zM1021 836h4v1h-4zM1129 836h1v2h-1zM1134 836h1v1h-1zM1146 836h1v1h-1zM1202 836h2v1h-2zM50 837h1v1h-1zM64 837h2v1h-2zM197 837h1v2h-1zM245 837h4v1h-4zM265 837h2v1h-2zM294 837h1v1h-1zM303 837h1v1h-1zM621 837h1v4h-1zM725 837h1v1h-1zM928 837h1v1h-1zM968 837h1v3h-1zM975 837h2v1h-2zM989 837h4v1h-4zM1018 837h3v1h-3zM1133 837h1v1h-1zM1147 837h1v2h-1zM1201 837h1v1h-1zM1204 837h2v1h-2zM3 838h1v4h-1zM49 838h1v2h-1zM66 838h1v1h-1zM117 838h1v1h-1zM218 838h1v1h-1zM241 838h4v1h-4zM295 838h1v2h-1zM302 838h1v2h-1zM724 838h1v1h-1zM929 838h1v2h-1zM977 838h1v1h-1zM983 838h6v1h-6zM1130 838h3v1h-3zM1200 838h1v1h-1zM1206 838h2v1h-2zM67 839h1v1h-1zM116 839h1v1h-1zM198 839h1v1h-1zM216 839h2v1h-2zM219 839h1v1h-1zM237 839h4v1h-4zM723 839h1v1h-1zM978 839h5v1h-5zM1130 839h1v1h-1zM1148 839h1v3h-1zM1199 839h1v1h-1zM1208 839h2v1h-2zM1215 839h8v1h-8zM1231 839h4v1h-4zM48 840h1v3h-1zM68 840h1v1h-1zM115 840h1v1h-1zM199 840h1v2h-1zM215 840h1v1h-1zM220 840h1v2h-1zM234 840h3v1h-3zM296 840h1v2h-1zM301 840h1v1h-1zM722 840h1v2h-1zM930 840h1v1h-1zM967 840h1v3h-1zM1198 840h1v1h-1zM1210 840h5v1h-5zM1223 840h8v1h-8zM1235 840h1v2h-1zM69 841h2v1h-2zM113 841h2v1h-2zM213 841h2v1h-2zM233 841h1v1h-1zM300 841h1v1h-1zM622 841h1v3h-1zM931 841h2v1h-2zM1197 841h1v1h-1zM1338 841h1v1h-1zM4 842h1v4h-1zM71 842h1v1h-1zM111 842h2v1h-2zM200 842h1v1h-1zM211 842h2v1h-2zM221 842h1v1h-1zM232 842h1v1h-1zM297 842h1v2h-1zM299 842h1v2h-1zM690 842h1v1h-1zM721 842h1v2h-1zM933 842h2v1h-2zM953 842h2v1h-2zM1149 842h1v3h-1zM1196 842h1v1h-1zM1236 842h1v2h-1zM1337 842h1v1h-1zM1339 842h2v1h-2zM47 843h1v3h-1zM72 843h1v1h-1zM108 843h3v1h-3zM201 843h1v2h-1zM209 843h2v1h-2zM222 843h1v1h-1zM231 843h1v1h-1zM689 843h1v2h-1zM691 843h1v1h-1zM935 843h1v1h-1zM951 843h2v1h-2zM955 843h1v2h-1zM966 843h1v2h-1zM1195 843h1v1h-1zM1336 843h1v1h-1zM1341 843h2v1h-2zM73 844h1v1h-1zM106 844h2v1h-2zM205 844h4v1h-4zM223 844h1v1h-1zM230 844h1v1h-1zM298 844h1v1h-1zM623 844h1v4h-1zM692 844h1v1h-1zM720 844h1v2h-1zM936 844h2v1h-2zM948 844h3v1h-3zM1191 844h4v1h-4zM1237 844h1v1h-1zM1335 844h1v1h-1zM1343 844h1v1h-1zM74 845h3v1h-3zM105 845h1v1h-1zM202 845h3v1h-3zM224 845h1v2h-1zM229 845h1v1h-1zM688 845h1v1h-1zM693 845h1v1h-1zM938 845h10v1h-10zM956 845h1v1h-1zM965 845h1v3h-1zM1150 845h1v2h-1zM1185 845h6v1h-6zM1238 845h1v2h-1zM1334 845h1v2h-1zM1344 845h2v1h-2zM5 846h1v4h-1zM46 846h1v2h-1zM77 846h4v1h-4zM104 846h1v1h-1zM228 846h1v1h-1zM634 846h1v1h-1zM687 846h1v1h-1zM694 846h1v2h-1zM719 846h1v2h-1zM957 846h1v2h-1zM1183 846h2v1h-2zM1346 846h1v2h-1zM81 847h2v1h-2zM103 847h1v1h-1zM225 847h1v1h-1zM227 847h1v1h-1zM633 847h1v1h-1zM635 847h2v1h-2zM686 847h1v2h-1zM1151 847h1v3h-1zM1180 847h3v1h-3zM1239 847h1v1h-1zM1333 847h1v1h-1zM45 848h1v3h-1zM83 848h1v2h-1zM102 848h1v1h-1zM226 848h1v1h-1zM624 848h1v3h-1zM632 848h1v2h-1zM637 848h1v1h-1zM695 848h1v1h-1zM718 848h1v3h-1zM958 848h1v1h-1zM964 848h1v3h-1zM1178 848h2v1h-2zM1240 848h1v2h-1zM1332 848h1v1h-1zM1347 848h1v2h-1zM101 849h1v1h-1zM638 849h1v1h-1zM685 849h1v1h-1zM696 849h1v1h-1zM959 849h1v2h-1zM1177 849h1v2h-1zM1298 849h1v1h-1zM1322 849h5v1h-5zM1331 849h1v1h-1zM6 850h1v4h-1zM84 850h1v1h-1zM100 850h1v1h-1zM631 850h1v1h-1zM639 850h2v1h-2zM658 850h2v1h-2zM684 850h1v1h-1zM697 850h1v1h-1zM1152 850h1v3h-1zM1241 850h1v2h-1zM1297 850h1v1h-1zM1299 850h1v1h-1zM1320 850h2v1h-2zM1327 850h4v1h-4zM1348 850h1v3h-1zM44 851h1v3h-1zM85 851h1v2h-1zM99 851h1v1h-1zM625 851h1v4h-1zM630 851h1v1h-1zM641 851h1v1h-1zM656 851h2v1h-2zM660 851h2v1h-2zM683 851h1v2h-1zM698 851h1v1h-1zM717 851h1v2h-1zM960 851h1v1h-1zM963 851h1v2h-1zM1176 851h1v2h-1zM1296 851h1v2h-1zM1300 851h1v1h-1zM1318 851h2v1h-2zM98 852h1v1h-1zM629 852h1v1h-1zM642 852h2v1h-2zM655 852h1v1h-1zM662 852h2v1h-2zM699 852h2v1h-2zM961 852h1v2h-1zM1242 852h1v2h-1zM1301 852h2v1h-2zM1316 852h2v1h-2zM86 853h1v1h-1zM97 853h1v1h-1zM628 853h1v2h-1zM644 853h3v1h-3zM653 853h2v1h-2zM664 853h2v1h-2zM682 853h1v1h-1zM701 853h1v1h-1zM716 853h1v2h-1zM962 853h1v2h-1zM1153 853h1v2h-1zM1175 853h1v2h-1zM1295 853h1v1h-1zM1303 853h1v1h-1zM1313 853h3v1h-3zM1349 853h1v3h-1zM7 854h1v4h-1zM43 854h1v2h-1zM87 854h1v2h-1zM96 854h1v1h-1zM647 854h2v1h-2zM651 854h2v1h-2zM666 854h1v1h-1zM681 854h1v1h-1zM702 854h1v1h-1zM1243 854h1v4h-1zM1294 854h1v1h-1zM1304 854h1v1h-1zM1311 854h2v1h-2zM95 855h1v1h-1zM626 855h2v1h-2zM649 855h2v1h-2zM667 855h2v1h-2zM680 855h1v1h-1zM703 855h2v1h-2zM715 855h1v2h-1zM1154 855h1v2h-1zM1174 855h1v2h-1zM1293 855h1v1h-1zM1305 855h1v1h-1zM1308 855h3v1h-3zM42 856h1v2h-1zM88 856h1v1h-1zM93 856h2v1h-2zM626 856h1v1h-1zM669 856h1v1h-1zM679 856h1v1h-1zM705 856h1v1h-1zM1155 856h1v1h-1zM1292 856h1v2h-1zM1306 856h2v1h-2zM1350 856h1v2h-1zM89 857h1v2h-1zM92 857h1v1h-1zM670 857h1v1h-1zM677 857h2v1h-2zM706 857h5v1h-5zM714 857h1v2h-1zM1156 857h2v1h-2zM1173 857h1v2h-1zM8 858h1v4h-1zM18 858h2v1h-2zM41 858h1v1h-1zM91 858h1v1h-1zM671 858h2v1h-2zM676 858h1v1h-1zM711 858h3v1h-3zM1158 858h2v1h-2zM1244 858h1v4h-1zM1291 858h1v1h-1zM1351 858h1v3h-1zM17 859h1v1h-1zM20 859h2v1h-2zM40 859h1v1h-1zM90 859h1v1h-1zM673 859h1v1h-1zM675 859h1v1h-1zM1160 859h2v1h-2zM1172 859h1v2h-1zM1290 859h1v3h-1zM16 860h1v2h-1zM22 860h2v1h-2zM39 860h1v1h-1zM674 860h1v1h-1zM1162 860h2v1h-2zM24 861h2v1h-2zM37 861h2v1h-2zM1164 861h2v1h-2zM1171 861h1v2h-1zM1352 861h1v3h-1zM9 862h1v4h-1zM15 862h1v1h-1zM26 862h3v1h-3zM36 862h1v1h-1zM1166 862h2v1h-2zM1245 862h1v3h-1zM1289 862h1v5h-1zM1377 862h2v1h-2zM14 863h1v1h-1zM29 863h4v1h-4zM35 863h1v1h-1zM1168 863h3v1h-3zM1362 863h5v1h-5zM1373 863h4v1h-4zM13 864h1v1h-1zM33 864h2v1h-2zM1170 864h1v1h-1zM1353 864h1v2h-1zM1360 864h2v1h-2zM1367 864h6v1h-6zM12 865h1v2h-1zM1246 865h1v4h-1zM1358 865h2v1h-2zM10 866h1v3h-1zM1354 866h1v2h-1zM1356 866h2v1h-2zM11 867h1v1h-1zM1288 867h1v5h-1zM1355 867h1v1h-1zM1247 869h1v3h-1zM1248 872h1v4h-1zM1287 872h1v5h-1zM1249 876h1v4h-1zM1286 877h1v4h-1zM1250 880h1v2h-1zM1251 881h2v1h-2zM1285 881h1v5h-1zM1253 882h4v1h-4zM1257 883h3v1h-3zM1260 884h2v1h-2zM1262 885h2v1h-2zM1264 886h2v1h-2zM1284 886h1v5h-1zM1266 887h1v1h-1zM1267 888h2v1h-2zM1269 889h1v1h-1zM1270 890h1v1h-1zM1271 891h2v1h-2zM1283 891h1v5h-1zM1273 892h1v1h-1zM1274 893h1v1h-1zM1275 894h2v1h-2zM1277 895h2v1h-2zM1279 896h1v1h-1zM1282 896h1v3h-1zM1280 897h2v1h-2z" fill="#1e90ff" shape-rendering="crispEdges"/>
<text x="-9" y="759" font-size="10" fill="#000" textLength="67" lengthAdjust="spacingAndGlyphs">RSI(14) 32.7327</text>
<g shape-rendering="crispEdges" fill="#000">
<rect x="0" y="19" width="1646" height="1"/>
<rect x="1645" y="19" width="1" height="554"/>
<rect x="0" y="572" width="1646" height="1"/>
<rect x="0" y="574" width="1646" height="1"/>
<rect x="1645" y="574" width="1" height="171"/>
<rect x="0" y="744" width="1646" height="1"/>
<rect x="0" y="746" width="1646" height="1"/>
<rect x="1645" y="746" width="1" height="175"/>
<rect x="0" y="920" width="1647" height="1"/>
<rect x="50" y="921" width="1" height="3"/>
<rect x="114" y="921" width="1" height="3"/>
<rect x="178" y="921" width="1" height="3"/>
<rect x="242" y="921" width="1" height="3"/>
<rect x="306" y="921" width="1" height="3"/>
<rect x="370" y="921" width="1" height="3"/>
<rect x="434" y="921" width="1" height="3"/>
<rect x="498" y="921" width="1" height="3"/>
<rect x="562" y="921" width="1" height="3"/>
<rect x="626" y="921" width="1" height="3"/>
<rect x="690" y="921" width="1" height="3"/>
<rect x="754" y="921" width="1" height="3"/>
<rect x="818" y="921" width="1" height="3"/>
<rect x="882" y="921" width="1" height="3"/>
<rect x="946" y="921" width="1" height="3"/>
<rect x="1010" y="921" width="1" height="3"/>
<rect x="1074" y="921" width="1" height="3"/>
<rect x="1138" y="921" width="1" height="3"/>
<rect x="1202" y="921" width="1" height="3"/>
<rect x="1266" y="921" width="1" height="3"/>
<rect x="1330" y="921" width="1" height="3"/>
</g>
<line x1="1340.0" y1="696.0" x2="1378.7" y2="739.9" stroke="#ff0000" stroke-width="3" shape-rendering="crispEdges"/>
<polygon points="1385.0,747.0 1375.5,742.7 1381.9,737.0" fill="#ff0000" shape-rendering="crispEdges"/>
<line x1="1326.0" y1="837.0" x2="1378.2" y2="858.4" stroke="#ff0000" stroke-width="3" shape-rendering="crispEdges"/>
<polygon points="1387.0,862.0 1376.6,862.4 1379.8,854.4" fill="#ff0000" shape-rendering="crispEdges"/>
<polygon points="1388,20 1400,20 1394,25.5" fill="#b0b0b0"/>
<rect x="1690" y="17" width="2" height="921" fill="#ebebeb"/>
<g shape-rendering="crispEdges" fill="#000">
<rect x="1646" y="41" width="2" height="1"/>
<rect x="1646" y="74" width="2" height="1"/>
<rect x="1646" y="107" width="2" height="1"/>
<rect x="1646" y="140" width="2" height="1"/>
<rect x="1646" y="173" width="2" height="1"/>
<rect x="1646" y="206" width="2" height="1"/>
<rect x="1646" y="239" width="2" height="1"/>
<rect x="1646" y="272" width="2" height="1"/>
<rect x="1646" y="305" width="2" height="1"/>
<rect x="1646" y="338" width="2" height="1"/>
<rect x="1646" y="371" width="2" height="1"/>
<rect x="1646" y="404" width="2" height="1"/>
<rect x="1646" y="437" width="2" height="1"/>
<rect x="1646" y="470" width="2" height="1"/>
<rect x="1646" y="503" width="2" height="1"/>
<rect x="1646" y="536" width="2" height="1"/>
<rect x="1646" y="569" width="2" height="1"/>
</g>
<text x="1651" y="45" font-size="10" fill="#000" textLength="33.0" lengthAdjust="spacingAndGlyphs">29985.0</text>
<text x="1651" y="78" font-size="10" fill="#000" textLength="33.0" lengthAdjust="spacingAndGlyphs">29815.0</text>
<text x="1651" y="111" font-size="10" fill="#000" textLength="33.0" lengthAdjust="spacingAndGlyphs">29650.0</text>
<text x="1651" y="144" font-size="10" fill="#000" textLength="33.0" lengthAdjust="spacingAndGlyphs">29485.0</text>
<text x="1651" y="177" font-size="10" fill="#000" textLength="33.0" lengthAdjust="spacingAndGlyphs">29315.0</text>
<text x="1651" y="210" font-size="10" fill="#000" textLength="33.0" lengthAdjust="spacingAndGlyphs">29150.0</text>
<text x="1651" y="243" font-size="10" fill="#000" textLength="33.0" lengthAdjust="spacingAndGlyphs">28980.0</text>
<text x="1651" y="276" font-size="10" fill="#000" textLength="33.0" lengthAdjust="spacingAndGlyphs">28815.0</text>
<text x="1651" y="309" font-size="10" fill="#000" textLength="33.0" lengthAdjust="spacingAndGlyphs">28650.0</text>
<text x="1651" y="342" font-size="10" fill="#000" textLength="33.0" lengthAdjust="spacingAndGlyphs">28480.0</text>
<text x="1651" y="375" font-size="10" fill="#000" textLength="33.0" lengthAdjust="spacingAndGlyphs">28315.0</text>
<text x="1651" y="408" font-size="10" fill="#000" textLength="33.0" lengthAdjust="spacingAndGlyphs">28150.0</text>
<text x="1651" y="441" font-size="10" fill="#000" textLength="33.0" lengthAdjust="spacingAndGlyphs">27980.0</text>
<text x="1651" y="474" font-size="10" fill="#000" textLength="33.0" lengthAdjust="spacingAndGlyphs">27815.0</text>
<text x="1651" y="507" font-size="10" fill="#000" textLength="33.0" lengthAdjust="spacingAndGlyphs">27645.0</text>
<text x="1651" y="540" font-size="10" fill="#000" textLength="33.0" lengthAdjust="spacingAndGlyphs">27480.0</text>
<text x="1651" y="573" font-size="10" fill="#000" textLength="33.0" lengthAdjust="spacingAndGlyphs">27315.0</text>
<g shape-rendering="crispEdges">
<rect x="1647" y="408" width="41" height="11" fill="#ff0000"/>
<rect x="1640.5" y="412.5" width="4" height="4" fill="#fff" stroke="#ff0000" stroke-width="1"/>
<rect x="1647" y="440" width="41" height="11" fill="#ff0000"/>
<rect x="1640.5" y="444.5" width="4" height="4" fill="#fff" stroke="#ff0000" stroke-width="1"/>
<rect x="1647" y="469" width="41" height="11" fill="#32cd32"/>
<rect x="1640.5" y="473.5" width="4" height="4" fill="#fff" stroke="#32cd32" stroke-width="1"/>
<rect x="1647" y="493" width="41" height="11" fill="#000000"/>
<rect x="1647" y="521" width="41" height="11" fill="#0000ff"/>
<rect x="1640.5" y="525.5" width="4" height="4" fill="#fff" stroke="#0000ff" stroke-width="1"/>
<rect x="1647" y="554" width="41" height="11" fill="#0000ff"/>
<rect x="1640.5" y="558.5" width="4" height="4" fill="#fff" stroke="#0000ff" stroke-width="1"/>
</g>
<text x="1651" y="418" font-size="10" fill="#fff" textLength="33.0" lengthAdjust="spacingAndGlyphs">28098.0</text>
<text x="1651" y="450" font-size="10" fill="#fff" textLength="33.0" lengthAdjust="spacingAndGlyphs">27936.4</text>
<text x="1651" y="479" font-size="10" fill="#fff" textLength="33.0" lengthAdjust="spacingAndGlyphs">27789.9</text>
<text x="1651" y="503" font-size="10" fill="#fff" textLength="33.0" lengthAdjust="spacingAndGlyphs">27665.0</text>
<text x="1651" y="531" font-size="10" fill="#fff" textLength="33.0" lengthAdjust="spacingAndGlyphs">27527.3</text>
<text x="1651" y="564" font-size="10" fill="#fff" textLength="33.0" lengthAdjust="spacingAndGlyphs">27360.6</text>
<g shape-rendering="crispEdges" fill="#000"><rect x="1646" y="576" width="2" height="1"/><rect x="1646" y="634" width="2" height="1"/><rect x="1646" y="743" width="2" height="1"/></g>
<text x="1649" y="585" font-size="10" fill="#000" textLength="23.0" lengthAdjust="spacingAndGlyphs">228.8</text>
<text x="1649" y="638" font-size="10" fill="#000" textLength="18.0" lengthAdjust="spacingAndGlyphs">0.00</text>
<text x="1649" y="741" font-size="10" fill="#000" textLength="31.0" lengthAdjust="spacingAndGlyphs">-424.07</text>
<g shape-rendering="crispEdges" fill="#000"><rect x="1646" y="748" width="2" height="1"/></g>
<text x="1649" y="757" font-size="10" fill="#000" textLength="15.0" lengthAdjust="spacingAndGlyphs">100</text>
<text x="1648" y="786" font-size="10" fill="#000" textLength="10.0" lengthAdjust="spacingAndGlyphs">80</text>
<text x="1648" y="837" font-size="10" fill="#000" textLength="10.0" lengthAdjust="spacingAndGlyphs">50</text>
<text x="1648" y="898" font-size="10" fill="#000" textLength="10.0" lengthAdjust="spacingAndGlyphs">15</text>
<text x="1649" y="918" font-size="10" fill="#000" textLength="5.0" lengthAdjust="spacingAndGlyphs">0</text>
<text x="-13.7" y="933.5" font-size="10" fill="#000" textLength="50" lengthAdjust="spacingAndGlyphs">21 Oct 2021</text>
<text x="49" y="933.5" font-size="10" fill="#000" textLength="56.3" lengthAdjust="spacingAndGlyphs">22 Oct 00:00</text>
<text x="113" y="933.5" font-size="10" fill="#000" textLength="56.3" lengthAdjust="spacingAndGlyphs">25 Oct 10:55</text>
<text x="177" y="933.5" font-size="10" fill="#000" textLength="56.3" lengthAdjust="spacingAndGlyphs">26 Oct 18:55</text>
<text x="241" y="933.5" font-size="10" fill="#000" textLength="56.3" lengthAdjust="spacingAndGlyphs">28 Oct 00:00</text>
<text x="305" y="933.5" font-size="10" fill="#000" textLength="56.3" lengthAdjust="spacingAndGlyphs">29 Oct 10:55</text>
<text x="369" y="933.5" font-size="10" fill="#000" textLength="52" lengthAdjust="spacingAndGlyphs">1 Nov 18:55</text>
<text x="433" y="933.5" font-size="10" fill="#000" textLength="52" lengthAdjust="spacingAndGlyphs">3 Nov 00:00</text>
<text x="497" y="933.5" font-size="10" fill="#000" textLength="52" lengthAdjust="spacingAndGlyphs">4 Nov 10:55</text>
<text x="561" y="933.5" font-size="10" fill="#000" textLength="52" lengthAdjust="spacingAndGlyphs">5 Nov 18:55</text>
<text x="625" y="933.5" font-size="10" fill="#000" textLength="52" lengthAdjust="spacingAndGlyphs">9 Nov 00:00</text>
<text x="689" y="933.5" font-size="10" fill="#000" textLength="56.3" lengthAdjust="spacingAndGlyphs">10 Nov 10:55</text>
<text x="753" y="933.5" font-size="10" fill="#000" textLength="56.3" lengthAdjust="spacingAndGlyphs">11 Nov 18:55</text>
<text x="817" y="933.5" font-size="10" fill="#000" textLength="56.3" lengthAdjust="spacingAndGlyphs">15 Nov 00:00</text>
<text x="881" y="933.5" font-size="10" fill="#000" textLength="56.3" lengthAdjust="spacingAndGlyphs">16 Nov 10:55</text>
<text x="945" y="933.5" font-size="10" fill="#000" textLength="56.3" lengthAdjust="spacingAndGlyphs">17 Nov 18:55</text>
<text x="1009" y="933.5" font-size="10" fill="#000" textLength="56.3" lengthAdjust="spacingAndGlyphs">19 Nov 00:00</text>
<text x="1073" y="933.5" font-size="10" fill="#000" textLength="56.3" lengthAdjust="spacingAndGlyphs">22 Nov 10:55</text>
<text x="1137" y="933.5" font-size="10" fill="#000" textLength="56.3" lengthAdjust="spacingAndGlyphs">23 Nov 18:55</text>
<text x="1201" y="933.5" font-size="10" fill="#000" textLength="56.3" lengthAdjust="spacingAndGlyphs">25 Nov 00:00</text>
<text x="1265" y="933.5" font-size="10" fill="#000" textLength="56.3" lengthAdjust="spacingAndGlyphs">26 Nov 10:55</text>
<text x="1329" y="933.5" font-size="10" fill="#000" textLength="56.3" lengthAdjust="spacingAndGlyphs">29 Nov 18:55</text>
<g shape-rendering="crispEdges">
<rect x="0" y="0" width="1692" height="14" fill="#f0f0f0"/>
<rect x="0" y="14" width="1692" height="1" fill="#e0e0e0"/>
<rect x="0" y="15" width="1692" height="1" fill="#a8a8a8"/>
<rect x="0" y="16" width="1692" height="1" fill="#696969"/>
<rect x="0" y="17" width="1692" height="2" fill="#fff"/>
</g>
<g clip-path="url(#cTb)">
<rect x="6" y="0" width="1" height="13" fill="#909090" shape-rendering="crispEdges"/>
<rect x="7" y="0" width="1" height="13" fill="#ffffff" shape-rendering="crispEdges"/>
<rect x="16.5" y="-2" width="11" height="10" fill="#fff" stroke="#808080" stroke-width="1"/>
<path d="M18.5,2.5 H25 M18.5,4.5 H25" stroke="#909090" stroke-width="1"/>
<path d="M24.400000000000002,2.0999999999999996 h3.4 v3.7 h3.7 v3.4 h-3.7 v3.7 h-3.4 v-3.7 h-3.7 v-3.4 h3.7 z" fill="#22cc22" stroke="#0a7a0a" stroke-width="1"/>
<path d="M35.4,2.3 H40.8 M38.5,0 V6.8 M35.6,6.4 L37,4.2 M40,4.2 L41,6 M42.4,0.4 H48.6 M44.2,0 V4 Q44.2,6 43,6.8 M48.1,0 V6.8" stroke="#101010" stroke-width="1.15" fill="none"/>
<path d="M49.6,3 L51.4,4.6 M51.6,3 V6.2 L53,5 M52.6,0.3 H57 M55.4,0 V6 Q55.4,6.8 54.4,6.8 H52.8" stroke="#101010" stroke-width="1.15" fill="none"/>
<path d="M60.5,0.5 H69.5 M60.5,2.5 H69.5 M60.7,0 V2.5 M69.3,0 V2.5 M59,4.55 H71 M64.9,0 V6.9" stroke="#101010" stroke-width="1.15" fill="none"/>
<polygon points="84,3.2 91,-3 99,2.6 92,10.6" fill="#e4b02c" stroke="#a87810" stroke-width="1"/>
<polygon points="84,3.2 92,10.6 92,8.6 85.5,2.6" fill="#f4d878"/>
<polygon points="92,10.6 99,2.6 99,4.4 92.4,11.6" fill="#c08a18"/>
<rect x="114.5" y="-2" width="9.5" height="6.5" fill="#2e86e8" stroke="#1c5cb0" stroke-width="1"/>
<rect x="118" y="-1" width="2.2" height="4" fill="#e8f2ff"/>
<path d="M113.5,10.2 a3,3 0 0 1 0.6,-5.6 a3.6,3.6 0 0 1 6.4,-0.8 a3,3 0 0 1 4.2,1.2 a2.7,2.7 0 0 1 -0.4,5.2 z" fill="#dfe8f6" stroke="#8ea6cc" stroke-width="1"/>
<path d="M147,2.7 L147,10.4 A7.7,7.7 0 0 0 154.6,2.7 A7.7,7.7 0 0 0 152,-3 z" fill="#8fcf8f"/>
<circle cx="146.8" cy="2.7" r="7.2" fill="none" stroke="#9db8ee" stroke-width="1.1"/>
<circle cx="146.8" cy="2.7" r="4.4" fill="none" stroke="#6d94e4" stroke-width="1.1"/>
<path d="M147.6,2.7 V10.6 A7.8,7.8 0 0 0 154.5,4" fill="none" stroke="#2f9e2f" stroke-width="1.8"/>
<circle cx="146.6" cy="2.6" r="1.6" fill="#2a62d8"/>
<path d="M166,0.5 L182,0.5 L182,4 L176,10.8 L172,10.8 Z" fill="#f2d548" stroke="#c9a622" stroke-width="0.8"/>
<path d="M166,-2 H182 V1.2 Q174,3.4 166,1.2 Z" fill="#4aa6e6"/>
<circle cx="178.6" cy="6.8" r="4.2" fill="#d8221c"/>
<rect x="177.2" y="5.4" width="2.9" height="2.9" fill="#fff"/>
<path d="M188.7,0 V6.9 M197,0 V6.9 M188.7,2.2 H197 M188.7,5.9 H197 M188.7,0.2 H197" stroke="#101010" stroke-width="1.15" fill="none"/>
<path d="M200,1 H204.4 M202.4,1.4 L200.6,5.4 H204.6 M203.6,3.6 L204.8,6.4 M205.6,0.6 H210 M209.3,0.6 V5.6 Q209.3,6.5 208.2,6.5 H207 M206.8,0 Q206.6,4.4 204.4,6.6" stroke="#101010" stroke-width="1.1" fill="none"/>
<path d="M212,0.4 H222 M214.6,1.6 L213,3.4 M219.6,1.6 L221.4,3.4 M220.6,2.4 Q217,6 212,6.6 M213.6,2.4 Q217,6 222.4,6.6" stroke="#101010" stroke-width="1.1" fill="none"/>
<path d="M225.4,0.3 H232.6 M225.4,0 V1.6 H232.6 V0 M224,3.2 H233.3 V5.8 Q233.3,6.6 232.2,6.6 H231.4 M226.4,2.2 L224.2,4.6 M227.6,3.4 L225,6.4 M230.2,3.4 L227.6,6.6" stroke="#101010" stroke-width="1.1" fill="none"/>
<rect x="242" y="0" width="1" height="14" fill="#a0a0a0" shape-rendering="crispEdges"/>
<rect x="243" y="0" width="1" height="14" fill="#ffffff" shape-rendering="crispEdges"/>
<rect x="246" y="1" width="3" height="1" fill="#a8a8a8" shape-rendering="crispEdges"/>
<rect x="246" y="3" width="3" height="1" fill="#a8a8a8" shape-rendering="crispEdges"/>
<rect x="246" y="5" width="3" height="1" fill="#a8a8a8" shape-rendering="crispEdges"/>
<rect x="246" y="7" width="3" height="1" fill="#a8a8a8" shape-rendering="crispEdges"/>
<rect x="246" y="9" width="3" height="1" fill="#a8a8a8" shape-rendering="crispEdges"/>
<rect x="246" y="11" width="3" height="1" fill="#a8a8a8" shape-rendering="crispEdges"/>
<path d="M260.5,0 V11 M258,8.5 H272 M270,6.5 L272,8.5 L270,10.5" fill="none" stroke="#505050" stroke-width="1.2"/>
<path d="M266.5,0 V6 M264.2,5.4 H266.5" stroke="#1a9a1a" stroke-width="1.4" fill="none"/>
<rect x="280" y="0" width="1" height="13" fill="#a0a0a0" shape-rendering="crispEdges"/>
<rect x="281" y="0" width="1" height="13" fill="#ffffff" shape-rendering="crispEdges"/>
<rect x="282" y="0" width="23" height="13" fill="#f8f8f8"/>
<path d="M288.5,0 V11 M286,8.5 H299.5 M297.5,6.5 L299.5,8.5 L297.5,10.5" fill="none" stroke="#505050" stroke-width="1.2"/>
<rect x="292.2" y="-2" width="4.4" height="6.8" fill="#1fae1f" stroke="#0f7a0f" stroke-width="0.8"/><path d="M294.4,4.8 V7" stroke="#0f7a0f" stroke-width="1.2"/>
<path d="M316.5,0 V11 M314,8.5 H328 M326,6.5 L328,8.5 L326,10.5" fill="none" stroke="#505050" stroke-width="1.2"/>
<path d="M315.2,5.8 L321,-0.5 L326.6,4.4" fill="none" stroke="#1a9a1a" stroke-width="1.3"/>
<rect x="337" y="0" width="1" height="13" fill="#a0a0a0" shape-rendering="crispEdges"/>
<rect x="338" y="0" width="1" height="13" fill="#ffffff" shape-rendering="crispEdges"/>
<path d="M355.20000000000005,5.2 L361.0,10.2" stroke="#d9b43a" stroke-width="3.2" stroke-linecap="round"/>
<path d="M355.40000000000003,5.0 L360.6,9.4" stroke="#f4e08a" stroke-width="1"/>
<circle cx="351.6" cy="1.4" r="5.4" fill="#b4dcf4" stroke="#3d86d6" stroke-width="1.4"/>
<rect x="349.0" y="0.4" width="5.2" height="1.8" fill="#3c78b8"/>
<rect x="350.70000000000005" y="-2" width="1.8" height="5.8" fill="#3c78b8"/>
<path d="M383.90000000000003,5.2 L389.7,10.2" stroke="#d9b43a" stroke-width="3.2" stroke-linecap="round"/>
<path d="M384.1,5.0 L389.3,9.4" stroke="#f4e08a" stroke-width="1"/>
<circle cx="380.3" cy="1.4" r="5.4" fill="#b4dcf4" stroke="#3d86d6" stroke-width="1.4"/>
<rect x="377.7" y="0.4" width="5.2" height="1.8" fill="#3c78b8"/>
<rect x="402" y="-2" width="7.4" height="4" fill="#4fa83a"/><rect x="410.6" y="-2" width="7.4" height="4" fill="#2f66d8"/>
<rect x="402" y="3.2" width="7.4" height="7.4" fill="#2f66d8"/><rect x="410.6" y="3.2" width="7.4" height="7.4" fill="#4fa83a"/>
<path d="M403.6,6.6 H407.8 M403.6,8.4 H407.8 M412.2,6.6 H416.4 M412.2,8.4 H416.4 M403.6,0.6 H407.8 M412.2,0.6 H416.4" stroke="#eef4ff" stroke-width="1.1"/>
<rect x="427" y="0" width="1" height="13" fill="#a0a0a0" shape-rendering="crispEdges"/>
<rect x="428" y="0" width="1" height="13" fill="#ffffff" shape-rendering="crispEdges"/>
<rect x="432" y="0" width="1" height="13" fill="#a0a0a0" shape-rendering="crispEdges"/>
<rect x="433" y="0" width="1" height="13" fill="#ffffff" shape-rendering="crispEdges"/>
<rect x="434" y="0" width="22" height="13" fill="#f8f8f8"/>
<path d="M440.5,0 V11 M438,8.5 H451.6 M449.6,6.5 L451.6,8.5 L449.6,10.5" fill="none" stroke="#505050" stroke-width="1.2"/>
<polygon points="445,0.4 445,5.4 449.4,2.9" fill="#27b327" stroke="#128212" stroke-width="0.6"/>
<rect x="460" y="0" width="1" height="13" fill="#a0a0a0" shape-rendering="crispEdges"/>
<rect x="461" y="0" width="1" height="13" fill="#ffffff" shape-rendering="crispEdges"/>
<rect x="462" y="0" width="22" height="13" fill="#f8f8f8"/>
<path d="M468.5,0 V11 M466,8.5 H479.4 M477.4,6.5 L479.4,8.5 L477.4,10.5" fill="none" stroke="#505050" stroke-width="1.2"/>
<path d="M474.4,0 V6.6" stroke="#2a6fd0" stroke-width="1.3"/><path d="M475.4,2.6 H480 M477.6,0.6 L475.4,2.6 L477.6,4.6" stroke="#d83a10" stroke-width="1.2" fill="none"/>
<rect x="489" y="0" width="1" height="13" fill="#a0a0a0" shape-rendering="crispEdges"/>
<rect x="490" y="0" width="1" height="13" fill="#ffffff" shape-rendering="crispEdges"/>
<rect x="499.5" y="-2" width="8.4" height="9.6" fill="#fff" stroke="#808080" stroke-width="1"/>
<path d="M501.5,1.5 H503.5 M501.5,3.5 H503.5" stroke="#707070" stroke-width="1"/>
<path d="M507.5,1.7000000000000002 h3.4 v3.5 h3.5 v3.4 h-3.5 v3.5 h-3.4 v-3.5 h-3.5 v-3.4 h3.5 z" fill="#22cc22" stroke="#0a7a0a" stroke-width="1"/>
<polygon points="520.4,2 526.4,2 523.4,5.2" fill="#000"/>
<circle cx="545" cy="2.6" r="6.9" fill="#e6ecf4" stroke="#2a66d8" stroke-width="2.2"/>
<path d="M545,-1 V3 H548" stroke="#707880" stroke-width="1" fill="none"/>
<polygon points="559.6,2 565.6,2 562.6,5.2" fill="#000"/>
<rect x="576.8" y="-2" width="14.6" height="11.4" fill="#fff" stroke="#2f6fd6" stroke-width="1.3"/>
<path d="M577,4.2 H591.4" stroke="#2f6fd6" stroke-width="1"/>
<path d="M579,2.6 L582,1.6 L584.5,2 L587,0.6 L589.6,0.2" stroke="#b03020" stroke-width="1" fill="none"/>
<path d="M579,7.4 L581.6,6.2 L584,7.4 L586.6,5.8 L589.6,6.8" stroke="#2c9c2c" stroke-width="1" fill="none"/>
<polygon points="598.6,2 604.6,2 601.6,5.2" fill="#000"/>
<rect x="611" y="0" width="1" height="14" fill="#909090" shape-rendering="crispEdges"/>
<rect x="614" y="1" width="3" height="1" fill="#a8a8a8" shape-rendering="crispEdges"/>
<rect x="614" y="3" width="3" height="1" fill="#a8a8a8" shape-rendering="crispEdges"/>
<rect x="614" y="5" width="3" height="1" fill="#a8a8a8" shape-rendering="crispEdges"/>
<rect x="614" y="7" width="3" height="1" fill="#a8a8a8" shape-rendering="crispEdges"/>
<rect x="614" y="9" width="3" height="1" fill="#a8a8a8" shape-rendering="crispEdges"/>
<rect x="614" y="11" width="3" height="1" fill="#a8a8a8" shape-rendering="crispEdges"/>
<rect x="620" y="0" width="1" height="13" fill="#a0a0a0" shape-rendering="crispEdges"/>
<rect x="621" y="0" width="1" height="13" fill="#ffffff" shape-rendering="crispEdges"/>
<rect x="622" y="0" width="23" height="13" fill="#f8f8f8"/>
<polygon points="628.4,-2 628.4,6.2 630.6,4.6 633,10 635.4,9 633,3.8 636.2,3.8 629.6,-2" fill="#3c3c3c"/>
<path d="M652.8,3.3 H659 M662,3.3 H668 M660.5,0 V2 M660.5,4.8 V10.6" stroke="#585858" stroke-width="1.1" fill="none"/>
<rect x="677" y="0" width="1" height="13" fill="#a0a0a0" shape-rendering="crispEdges"/>
<rect x="678" y="0" width="1" height="13" fill="#ffffff" shape-rendering="crispEdges"/>
<path d="M694.5,0 V9.7" stroke="#585858" stroke-width="1.1"/>
<path d="M717,3.3 H729" stroke="#585858" stroke-width="1.1"/>
<path d="M744.8,10 L755.4,0" stroke="#585858" stroke-width="1.1"/>
<path d="M771,6.6 L781,-1 M774,9.6 L785,1.2 M773.5,5 L776,9 M777,2 L780,6.2 M781,-1 L783.4,3" stroke="#585858" stroke-width="1" fill="none"/>
<text x="782" y="11.8" font-size="5.8" font-weight="bold" fill="#404040">E</text>
<path d="M800,3.3 H813.4 M800,7.3 H809" stroke="#585858" stroke-width="1" stroke-dasharray="1 1"/>
<text x="809.8" y="11.8" font-size="5.8" font-weight="bold" fill="#404040">F</text>
<text x="830.4" y="7.7" font-size="12.5" font-weight="bold" fill="#585858" textLength="8.6" lengthAdjust="spacingAndGlyphs">A</text>
<rect x="857.5" y="-2" width="11.5" height="11.6" fill="none" stroke="#585858" stroke-width="1" stroke-dasharray="1 1"/>
<text x="859.4" y="7.7" font-size="12.5" font-weight="bold" fill="#585858" textLength="7.8" lengthAdjust="spacingAndGlyphs">T</text>
<path d="M885.6,0.6 L888.4,3.8 L893,-1.6" stroke="#505050" stroke-width="1.5" fill="none"/>
<polygon points="894.6,4.6 898,7.3 894.6,10 891.2,7.3" fill="#505050"/>
<polygon points="885,-1 888.8,-1 886.9,1" fill="#505050"/>
<polygon points="904.8,2 910.8,2 907.8,5.2" fill="#000"/>
<rect x="916" y="0" width="1" height="14" fill="#909090" shape-rendering="crispEdges"/>
<rect x="920" y="1" width="3" height="1" fill="#a8a8a8" shape-rendering="crispEdges"/>
<rect x="920" y="3" width="3" height="1" fill="#a8a8a8" shape-rendering="crispEdges"/>
<rect x="920" y="5" width="3" height="1" fill="#a8a8a8" shape-rendering="crispEdges"/>
<rect x="920" y="7" width="3" height="1" fill="#a8a8a8" shape-rendering="crispEdges"/>
<rect x="920" y="9" width="3" height="1" fill="#a8a8a8" shape-rendering="crispEdges"/>
<rect x="920" y="11" width="3" height="1" fill="#a8a8a8" shape-rendering="crispEdges"/>
<rect x="1065" y="0" width="1" height="13" fill="#a0a0a0" shape-rendering="crispEdges"/>
<rect x="1066" y="0" width="1" height="13" fill="#ffffff" shape-rendering="crispEdges"/>
<rect x="1067" y="0" width="24" height="13" fill="#f8f8f8"/>
<text x="931.4" y="6.6" font-size="10.5" fill="#484848" textLength="12.8" lengthAdjust="spacingAndGlyphs">M1</text>
<text x="959.4" y="6.6" font-size="10.5" fill="#484848" textLength="12.8" lengthAdjust="spacingAndGlyphs">M5</text>
<text x="985.5" y="6.6" font-size="10.5" fill="#484848" textLength="17.4" lengthAdjust="spacingAndGlyphs">M15</text>
<text x="1013.3" y="6.6" font-size="10.5" fill="#484848" textLength="17.7" lengthAdjust="spacingAndGlyphs">M30</text>
<text x="1044.5" y="6.6" font-size="10.5" fill="#484848" textLength="11.9" lengthAdjust="spacingAndGlyphs">H1</text>
<text x="1071.5" y="6.6" font-size="10.5" fill="#484848" textLength="12.4" lengthAdjust="spacingAndGlyphs">H4</text>
<text x="1100.2" y="6.6" font-size="10.5" fill="#484848" textLength="12.1" lengthAdjust="spacingAndGlyphs">D1</text>
<text x="1128.2" y="6.6" font-size="10.5" fill="#484848" textLength="13.8" lengthAdjust="spacingAndGlyphs">W1</text>
<text x="1154.5" y="6.6" font-size="10.5" fill="#484848" textLength="14.9" lengthAdjust="spacingAndGlyphs">MN</text>
<rect x="1177" y="0" width="1" height="13" fill="#a0a0a0" shape-rendering="crispEdges"/>
<rect x="1178" y="0" width="1" height="13" fill="#ffffff" shape-rendering="crispEdges"/>
<path d="M1645.2,4.2 L1639.6,8.6" stroke="#2c62d0" stroke-width="2.2" stroke-linecap="round"/>
<circle cx="1648.4" cy="0.6" r="4.2" fill="#eef4ff" stroke="#2c62d0" stroke-width="1.6"/>
<path d="M1664.5,6 a5,4.2 0 0 1 10,0 a5,4.2 0 0 1 -5,4.2 l-3,1.6 l0.6,-2.4 a4.6,4 0 0 1 -2.6,-3.4 z" fill="#dcdcdc" stroke="#b0b0b0" stroke-width="0.8"/>
<circle cx="1678" cy="-0.8" r="9.2" fill="#dc2a1c"/>
<path d="M1675.4,-1 L1678.4,-3 V4.2 M1676,4.2 H1680.6" stroke="#fff" stroke-width="1.4" fill="none"/>
</g>
</svg></body></html>
